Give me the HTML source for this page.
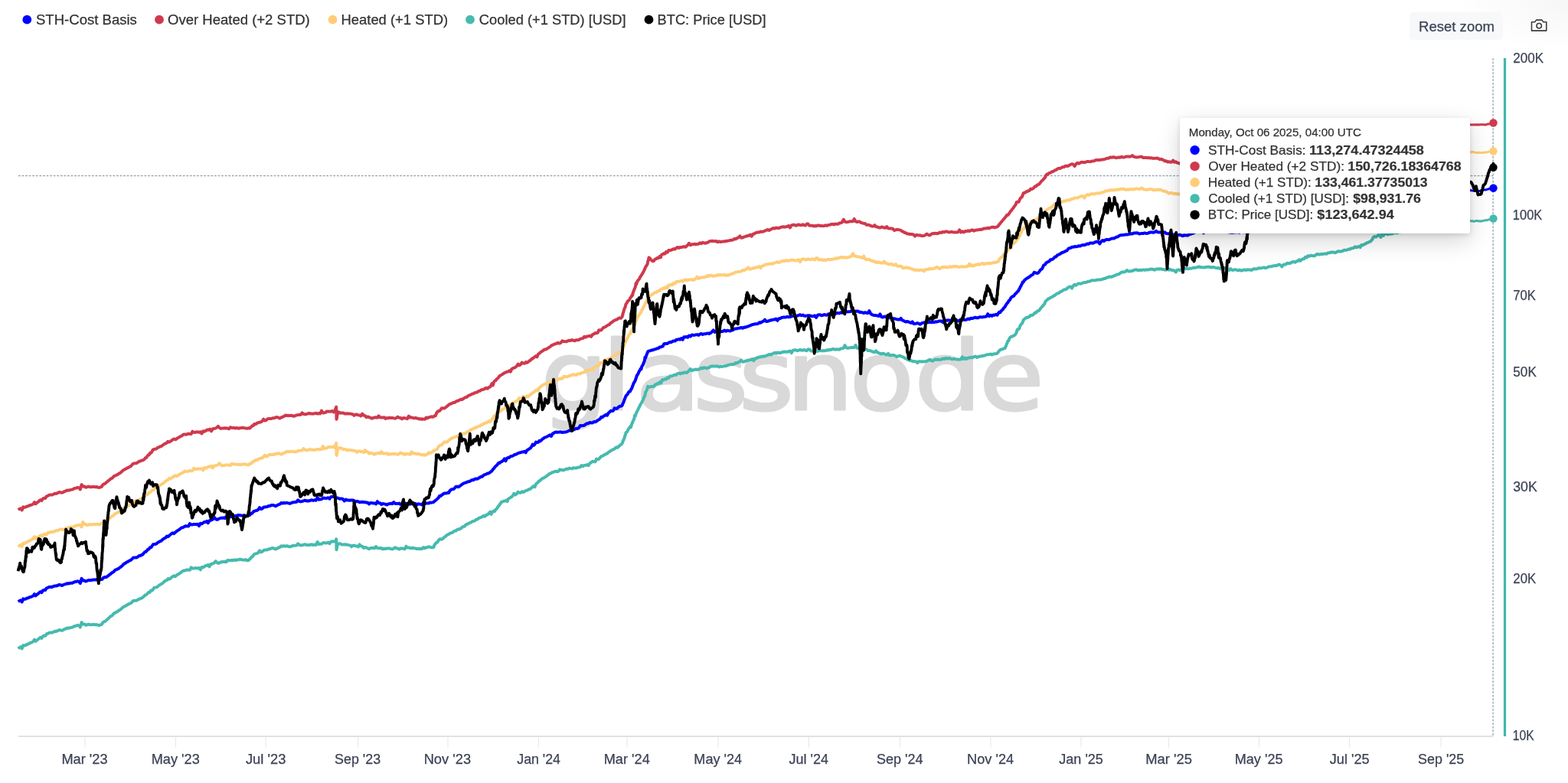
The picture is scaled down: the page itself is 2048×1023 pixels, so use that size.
<!DOCTYPE html>
<html lang="en"><head><meta charset="utf-8"><title>STH Cost Basis Bands</title>
<style>
html,body{margin:0;padding:0;background:#fff;}
body{width:2048px;height:1023px;position:relative;overflow:hidden;font-family:"Liberation Sans",sans-serif;}
.t{position:absolute;white-space:nowrap;line-height:1;transform-origin:0 0;-webkit-text-stroke:0.25px currentColor;}
.t b{-webkit-text-stroke:0.2px currentColor;}
.lg{font-size:18px;color:#333;}
.xl{font-size:18px;color:#3b4254;}
.yl{font-size:18px;color:#3b4254;}
.wm{color:#d9d9d9;-webkit-text-stroke:3px #d9d9d9;}
#tip{position:absolute;left:1541.2px;top:154px;width:378.8px;height:150.6px;background:#fff;border-radius:3px;box-shadow:0 10px 30px rgba(0,0,0,0.17),0 2px 6px rgba(0,0,0,0.13);}
.th{font-size:14.7px;color:#333;}
.tr{font-size:17px;color:#333;}
.tr b{font-weight:bold;}
#rz{position:absolute;left:1841.3px;top:15.6px;width:122.2px;height:36.6px;background:#f7f8fa;border-radius:5px;}
.rzt{font-size:19px;color:#3b4254;}
svg{position:absolute;left:0;top:0;}
</style></head><body>

<div style="position:absolute;right:0;top:0;width:150px;height:70px;background:radial-gradient(ellipse at 100% 0%,rgba(0,0,0,0.035),rgba(0,0,0,0) 70%);"></div>
<svg width="2048" height="1023" viewBox="0 0 2048 1023" fill="none">
<text x="642.2 715.1 754.9 823.1 877.5 934.0 1008.8 1085.9 1162.8" y="535.3" transform="scale(1.100,1)" font-family="&quot;DejaVu Sans&quot;,&quot;Liberation Sans&quot;,sans-serif" font-size="125" fill="#d9d9d9" stroke="#d9d9d9" stroke-width="3" stroke-linejoin="round">glassnode</text>
<line x1="24" y1="229.6" x2="1950" y2="229.6" stroke="#8fa0ae" stroke-width="1.3" stroke-dasharray="2.8 1.77"/>
<line x1="1950.1" y1="75.9" x2="1950.1" y2="962" stroke="#8fa0ae" stroke-width="1.3" stroke-dasharray="2.8 1.77"/>
<polyline points="23.8,847.5 25.4,846.1 27.0,845.1 28.7,847.3 30.3,843.1 31.9,843.5 33.6,842.9 35.2,842.0 36.8,841.5 38.5,840.3 40.1,839.9 41.7,839.1 43.4,838.1 45.0,835.6 46.6,837.9 48.2,836.4 49.8,835.4 51.4,833.9 53.0,832.7 54.5,833.8 56.1,831.2 57.7,830.6 59.3,830.8 60.9,828.2 62.5,827.8 64.3,826.8 66.1,826.6 68.0,826.6 69.8,825.7 71.6,824.8 73.4,824.9 75.2,824.2 77.0,823.1 78.9,823.2 80.7,823.8 82.5,823.1 84.2,822.0 85.9,821.6 87.7,820.6 89.4,820.8 91.1,820.2 92.8,819.9 94.5,819.6 96.2,818.7 98.0,817.9 99.7,817.6 101.4,816.8 103.1,817.3 104.8,819.5 106.6,813.1 108.3,815.5 110.0,815.4 111.8,816.7 113.6,816.3 115.5,815.6 117.3,816.2 119.1,816.3 120.9,816.0 122.7,816.0 124.5,816.2 126.4,816.1 128.2,816.8 130.0,816.9 131.4,816.3 132.9,815.9 134.3,813.3 135.7,812.3 137.1,812.0 138.6,810.6 140.0,809.4 141.5,808.0 143.0,806.8 144.5,805.1 146.0,804.6 147.5,803.1 149.0,801.1 150.5,800.7 152.0,799.5 153.5,799.1 155.0,797.6 156.6,796.9 158.1,795.8 159.7,794.2 161.2,792.8 162.8,792.3 164.4,791.2 165.9,790.4 167.5,789.6 169.1,788.7 170.7,788.2 172.3,786.7 173.9,785.0 175.5,784.7 177.0,784.7 178.6,784.6 180.2,783.5 181.8,782.4 183.4,782.2 185.0,781.3 186.5,780.7 188.0,779.1 189.5,777.5 191.0,777.2 192.5,775.7 194.0,774.0 195.5,773.9 197.0,771.6 198.5,771.5 200.0,770.0 201.5,767.7 203.0,767.5 204.5,767.2 206.0,766.4 207.5,764.9 209.0,764.0 210.5,763.1 212.0,762.3 213.5,760.8 215.0,759.5 216.5,758.5 218.1,757.9 219.6,756.0 221.2,756.7 222.7,755.6 224.2,754.3 225.8,753.0 227.3,752.3 228.8,753.2 230.4,751.8 231.9,750.7 233.5,749.8 235.0,748.8 236.5,748.0 238.0,746.3 239.5,745.8 241.0,745.5 242.7,745.0 244.5,744.4 246.2,744.7 247.9,744.8 249.7,741.4 251.4,742.6 253.1,742.7 254.8,742.1 256.6,742.3 258.3,742.5 260.0,742.0 261.8,744.3 263.5,741.0 265.2,741.4 266.8,740.3 268.5,739.0 270.2,739.1 271.8,737.8 273.5,740.3 275.2,737.4 276.8,736.6 278.5,736.2 280.2,735.0 281.8,733.2 283.5,735.2 285.2,735.9 286.8,735.1 288.5,734.5 290.2,734.0 292.0,733.9 293.8,733.7 295.5,734.3 297.2,732.0 299.0,732.2 300.8,732.3 302.5,732.0 304.2,732.2 306.0,731.4 307.9,732.0 309.8,731.4 311.6,731.3 313.5,730.8 315.4,731.1 317.2,731.5 319.1,731.7 321.0,731.1 322.9,732.4 324.8,732.0 326.0,730.4 327.2,729.8 328.5,727.7 329.8,727.4 331.0,725.1 332.2,724.0 334.0,723.4 335.7,723.1 337.4,721.8 339.1,719.4 340.8,721.3 342.5,720.7 344.2,719.1 345.9,718.6 347.6,718.4 349.3,718.2 351.0,717.2 352.8,717.2 354.6,716.3 356.5,716.1 358.3,716.7 360.1,717.6 361.9,716.5 363.7,715.6 365.5,715.0 367.4,713.3 369.2,713.8 371.0,713.2 372.8,713.7 374.6,713.3 376.5,713.8 378.3,714.4 380.1,714.0 381.9,713.1 383.7,712.9 385.5,712.8 387.4,712.6 389.2,710.3 391.0,712.0 392.8,712.5 394.6,712.2 396.5,711.8 398.3,711.2 400.1,712.0 401.9,711.9 403.7,712.2 405.5,711.7 407.4,711.3 409.2,712.1 411.0,711.6 412.8,712.0 414.6,708.1 416.4,711.1 418.2,710.8 420.0,710.7 421.8,709.2 423.5,709.1 425.2,709.5 427.0,709.2 428.8,708.8 430.5,710.2 432.2,707.8 434.0,707.4 435.8,707.6 437.5,707.1 438.4,706.8 439.2,704.3 439.3,706.2 439.3,708.1 439.3,709.2 439.4,711.3 439.4,715.0 439.4,714.5 439.5,716.9 439.5,718.2 439.9,716.6 440.2,714.5 440.6,712.5 440.9,711.2 441.2,710.6 443.0,710.3 444.8,710.5 446.6,711.6 448.3,711.4 450.1,711.3 451.9,711.5 453.6,711.7 455.4,712.1 457.2,712.4 459.0,714.1 460.7,712.7 462.5,712.8 464.3,713.3 466.1,713.4 467.9,714.5 469.6,711.4 471.4,713.6 473.2,713.8 475.0,715.9 476.8,715.0 478.6,715.6 480.4,716.3 482.1,717.2 483.9,716.1 485.7,715.9 487.5,715.8 489.3,716.3 491.1,714.1 492.9,716.1 494.6,716.2 496.4,716.3 498.2,715.9 500.0,717.5 501.8,716.7 503.6,717.0 505.4,716.4 507.1,716.5 508.9,716.5 510.7,717.1 512.5,717.5 514.3,716.5 516.1,715.3 517.9,716.4 519.6,716.4 521.4,717.7 523.2,716.5 525.0,716.6 526.8,716.8 528.6,717.4 530.4,713.9 532.1,715.6 533.9,715.4 535.7,716.0 537.5,716.3 539.2,715.6 541.0,716.3 542.8,716.4 544.5,717.2 546.2,716.7 548.0,717.3 549.8,716.8 551.5,716.9 553.2,715.1 555.0,716.3 556.7,715.2 558.3,715.0 560.0,714.2 561.7,714.8 563.3,715.3 565.0,715.3 566.2,715.2 567.5,712.1 568.8,710.1 570.0,709.1 571.2,708.5 572.5,706.5 574.0,704.5 575.5,704.3 577.0,704.8 578.5,703.6 580.0,702.3 581.5,701.0 583.0,699.7 584.5,698.7 586.0,698.0 587.5,697.0 589.1,696.2 590.7,695.9 592.3,694.6 593.9,693.6 595.5,693.5 597.0,692.1 598.6,691.4 600.2,691.5 601.8,690.3 603.4,689.1 605.0,687.9 606.7,687.7 608.3,685.6 610.0,684.9 611.7,684.1 613.3,683.1 615.0,682.8 616.7,681.4 618.3,680.9 620.0,680.5 621.7,678.9 623.3,678.6 625.0,677.2 626.7,676.4 628.3,676.0 630.0,675.1 631.7,673.8 633.3,674.7 635.0,673.0 636.7,672.4 638.3,671.1 640.0,668.9 641.6,671.9 643.1,668.6 644.7,667.7 646.2,668.0 647.3,665.8 648.4,665.0 649.5,663.7 650.6,661.7 651.7,660.6 652.8,659.0 653.9,657.4 655.0,655.8 656.5,655.5 658.0,654.8 659.5,654.6 661.0,653.6 662.5,655.2 664.0,651.8 665.4,650.7 666.9,650.0 668.3,649.1 669.8,647.5 671.2,644.8 673.0,646.5 674.8,645.4 676.5,642.7 678.2,643.7 680.0,643.8 681.8,642.2 683.6,643.0 685.4,641.9 687.1,640.9 688.9,640.5 690.7,639.2 692.5,639.0 694.0,637.6 695.5,636.3 697.0,635.0 698.5,636.2 700.0,632.5 701.4,631.3 702.9,629.8 704.3,628.5 705.7,627.5 707.1,626.2 708.6,624.9 710.0,624.6 711.6,623.5 713.1,622.6 714.7,621.4 716.2,620.3 717.8,618.8 719.4,618.5 720.9,617.3 722.5,617.0 724.2,616.2 726.0,615.6 727.8,616.3 729.5,615.6 731.2,613.3 733.0,614.0 734.8,614.2 736.5,614.2 738.2,613.3 740.0,612.5 741.8,612.7 743.6,611.6 745.4,612.1 747.1,612.4 748.9,611.2 750.7,611.6 752.5,611.6 754.3,610.7 756.1,610.5 757.9,610.1 759.6,608.1 761.4,609.2 763.2,607.9 765.0,607.8 766.8,607.1 768.6,608.2 770.4,605.2 772.1,604.3 773.9,602.8 775.7,603.2 777.5,603.3 779.1,599.6 780.6,599.9 782.2,599.9 783.8,597.8 785.3,596.2 786.9,595.9 788.4,594.7 790.0,593.9 791.6,593.0 793.1,592.6 794.7,590.7 796.2,590.0 797.8,588.9 799.4,588.0 800.9,587.2 802.5,586.7 803.9,585.2 805.4,584.3 806.8,584.8 808.2,583.0 809.6,582.1 811.1,580.8 812.5,579.7 813.1,578.0 813.8,575.9 814.4,574.9 815.0,573.5 815.6,572.1 816.2,569.5 816.9,568.1 817.5,565.3 818.4,564.5 819.4,563.8 820.3,561.6 821.2,560.0 822.2,559.0 823.1,557.3 824.1,558.0 825.0,554.5 825.7,553.1 826.4,551.3 827.0,549.6 827.7,548.5 828.4,546.4 829.1,542.4 829.8,543.6 830.5,541.2 831.1,539.6 831.8,538.1 832.5,536.8 833.3,535.3 834.2,533.2 835.0,531.7 835.8,529.9 836.7,528.5 837.5,526.7 838.3,525.6 839.2,523.7 840.0,522.5 840.6,520.2 841.2,519.3 841.9,517.6 842.5,516.7 843.1,512.7 843.8,511.3 844.4,510.4 845.0,509.2 845.6,506.9 846.2,504.8 848.3,505.8 850.4,505.0 852.5,505.0 854.1,504.8 855.6,502.6 857.2,502.2 858.8,500.9 860.3,501.2 861.9,499.1 863.4,500.4 865.0,496.3 866.7,496.3 868.3,495.2 870.0,495.7 871.7,493.3 873.3,494.0 875.0,491.4 876.7,491.4 878.3,491.0 880.0,490.2 881.7,489.5 883.3,489.9 885.0,488.2 886.7,487.5 888.3,488.4 890.0,487.6 891.7,487.6 893.3,486.8 895.0,486.5 896.7,487.0 898.3,485.9 900.0,484.2 901.8,482.0 903.6,484.3 905.4,483.2 907.1,483.2 908.9,482.5 910.7,483.1 912.5,482.5 914.2,482.0 916.0,480.5 917.8,481.5 919.5,480.2 921.2,480.7 923.0,481.2 924.8,480.3 926.5,480.0 928.2,478.7 930.0,478.5 931.8,478.5 933.6,478.5 935.5,478.6 937.3,478.2 939.1,479.5 940.9,478.5 942.7,479.1 944.5,478.6 946.4,478.3 948.2,478.1 950.0,477.5 951.8,476.7 953.6,476.4 955.5,476.1 957.3,475.9 959.1,475.7 960.9,474.0 962.7,474.4 964.5,473.2 966.4,472.4 968.2,470.5 970.0,472.8 971.8,472.6 973.6,471.8 975.5,471.3 977.3,470.8 979.1,470.3 980.9,470.0 982.7,469.0 984.5,471.2 986.4,468.4 988.2,468.2 990.0,467.0 991.7,466.6 993.3,466.3 995.0,466.2 996.7,465.4 998.3,465.7 1000.0,465.2 1001.7,464.3 1003.3,463.7 1005.0,462.9 1006.7,463.7 1008.3,462.6 1010.0,461.8 1011.8,460.9 1013.6,461.7 1015.5,460.5 1017.3,461.1 1019.1,461.2 1020.9,460.4 1022.7,459.8 1024.5,459.5 1026.4,459.7 1028.2,459.8 1030.0,459.3 1031.9,458.5 1033.8,461.1 1035.6,458.0 1037.5,457.3 1039.4,457.3 1041.2,458.3 1043.1,457.7 1045.0,456.8 1046.8,457.6 1048.5,457.8 1050.2,456.9 1052.0,457.8 1053.8,458.3 1055.5,456.3 1057.2,456.4 1059.0,458.5 1060.8,458.5 1062.5,458.5 1064.2,459.1 1066.0,458.4 1067.8,459.1 1069.5,458.0 1071.2,457.8 1073.0,458.4 1074.8,458.1 1076.5,458.3 1078.2,458.1 1080.0,457.3 1081.8,457.8 1083.6,456.8 1085.5,456.9 1087.3,456.1 1089.1,456.1 1090.9,456.8 1092.7,456.2 1094.5,456.4 1096.4,456.7 1098.2,455.4 1100.0,455.3 1101.8,454.6 1103.5,451.2 1105.2,454.1 1107.0,454.8 1108.8,454.6 1110.5,454.3 1112.2,454.0 1114.0,453.9 1115.8,453.9 1117.5,451.0 1119.3,454.6 1121.1,455.1 1122.9,454.5 1124.6,454.4 1126.4,455.7 1128.2,455.7 1130.0,456.3 1131.8,456.4 1133.6,458.1 1135.4,457.9 1137.1,458.4 1138.9,459.1 1140.7,459.9 1142.5,460.0 1144.2,458.3 1146.0,460.6 1147.8,461.1 1149.5,462.0 1151.2,462.5 1153.0,461.7 1154.8,462.1 1156.5,463.1 1158.2,463.5 1160.0,461.9 1161.9,464.3 1163.8,464.3 1165.6,464.1 1167.5,463.9 1169.4,464.9 1171.2,466.2 1173.1,465.4 1175.0,464.7 1176.7,465.4 1178.3,466.0 1180.0,466.6 1181.7,468.0 1183.3,468.4 1185.0,469.8 1186.7,469.9 1188.3,471.1 1190.0,471.0 1191.7,471.9 1193.3,472.0 1195.0,472.3 1196.7,472.5 1198.3,474.1 1200.0,472.2 1201.7,472.3 1203.3,472.6 1205.0,472.2 1206.9,472.4 1208.8,472.2 1210.6,471.8 1212.5,470.9 1214.4,469.7 1216.2,471.1 1218.1,471.7 1220.0,470.4 1221.9,469.4 1223.8,470.0 1225.6,469.6 1227.5,470.0 1229.4,469.7 1231.2,468.5 1233.1,469.2 1235.0,467.9 1236.8,468.7 1238.6,468.1 1240.5,468.2 1242.3,469.0 1244.1,469.3 1245.9,468.7 1247.7,469.1 1249.5,469.6 1251.4,469.6 1253.2,469.7 1255.0,469.6 1256.9,466.3 1258.8,469.2 1260.6,467.7 1262.5,469.0 1264.4,467.6 1266.2,467.6 1268.1,466.7 1270.0,467.3 1272.1,466.2 1274.2,465.6 1276.2,467.0 1278.0,466.1 1279.7,465.5 1281.4,465.5 1283.1,464.8 1284.8,464.9 1286.6,464.4 1288.3,463.4 1290.0,463.3 1291.9,463.2 1293.8,462.6 1295.6,463.5 1297.5,462.5 1299.4,462.2 1301.2,462.2 1302.5,461.7 1303.8,460.1 1305.0,458.3 1306.2,457.2 1307.8,456.4 1309.4,456.2 1310.9,455.4 1312.5,455.1 1313.3,453.2 1314.1,451.7 1314.8,449.6 1315.6,447.9 1316.4,445.5 1317.2,445.4 1318.0,443.6 1318.8,441.4 1320.2,440.1 1321.8,439.7 1323.2,438.8 1324.8,438.3 1326.2,437.1 1327.1,435.4 1327.9,433.7 1328.8,430.4 1329.6,430.2 1330.4,430.1 1331.2,429.3 1332.1,426.5 1332.9,424.8 1333.8,423.6 1334.8,422.8 1335.8,420.8 1336.8,417.8 1337.8,417.1 1338.8,416.4 1340.2,414.9 1341.7,415.0 1343.1,414.1 1344.6,413.9 1346.0,411.8 1347.5,412.0 1348.9,411.6 1350.4,410.2 1351.8,408.5 1353.2,408.6 1354.6,406.6 1356.1,406.2 1357.5,405.3 1358.6,403.7 1359.7,402.1 1360.8,401.0 1361.9,399.8 1363.1,398.1 1364.2,397.2 1365.3,394.2 1366.4,392.8 1367.5,392.0 1369.0,390.5 1370.5,390.0 1372.0,388.8 1373.5,388.4 1375.0,387.5 1376.5,386.2 1378.0,385.8 1379.5,384.3 1381.0,383.4 1382.5,383.0 1384.1,382.1 1385.7,380.8 1387.3,380.4 1388.9,378.8 1390.5,378.3 1392.0,378.2 1393.6,376.9 1395.2,375.6 1396.8,374.7 1398.4,374.5 1400.0,376.6 1401.7,373.6 1403.3,371.9 1405.0,372.7 1406.7,371.7 1408.3,370.5 1410.0,370.5 1411.7,370.7 1413.3,370.0 1415.0,369.2 1416.7,369.1 1418.3,369.0 1420.0,368.2 1421.8,367.7 1423.6,367.6 1425.5,366.5 1427.3,366.1 1429.1,366.4 1430.9,366.1 1432.7,365.8 1434.5,365.5 1436.4,365.5 1438.2,365.2 1440.0,364.7 1441.7,364.1 1443.3,364.0 1445.0,362.8 1446.7,362.6 1448.3,361.8 1450.0,361.6 1451.7,361.9 1453.3,361.2 1455.0,360.3 1456.7,360.0 1458.3,358.7 1460.0,358.6 1461.7,358.1 1463.3,356.7 1465.0,355.6 1466.8,355.4 1468.5,355.4 1470.2,354.7 1472.0,353.1 1473.8,354.4 1475.5,354.4 1477.2,354.3 1479.0,353.8 1480.8,353.1 1482.5,352.4 1484.3,352.2 1486.1,353.3 1487.9,353.0 1489.6,352.7 1491.4,352.9 1493.2,352.4 1495.0,352.9 1496.9,352.3 1498.8,352.6 1500.6,352.2 1502.5,351.8 1504.4,351.5 1506.2,352.0 1508.1,352.7 1510.0,351.5 1511.7,351.4 1513.3,351.3 1515.0,351.7 1516.7,351.2 1518.3,352.1 1520.0,352.0 1521.7,352.7 1523.3,352.7 1525.0,350.7 1526.8,352.7 1528.6,351.9 1530.5,353.1 1532.3,353.1 1534.1,353.6 1535.9,355.5 1537.7,352.7 1539.5,352.4 1541.4,353.3 1543.2,352.5 1545.0,352.0 1546.8,351.3 1548.5,351.2 1550.2,350.6 1552.0,351.3 1553.8,350.6 1555.5,350.8 1557.2,350.3 1559.0,349.6 1560.8,350.0 1562.5,349.3 1564.3,349.1 1566.1,348.2 1567.9,349.3 1569.6,349.1 1571.4,349.4 1573.2,349.5 1575.0,348.9 1576.8,348.8 1578.6,348.6 1580.5,349.0 1582.3,349.6 1584.1,349.0 1585.9,349.3 1587.7,349.9 1589.5,350.2 1591.4,349.9 1593.2,350.8 1595.0,351.5 1596.7,350.3 1598.5,349.4 1600.2,350.5 1601.9,350.8 1603.7,352.0 1605.4,353.2 1607.1,351.1 1608.8,352.5 1610.6,353.0 1612.3,352.2 1614.0,352.3 1615.8,353.0 1617.5,353.4 1619.2,352.5 1620.8,353.4 1622.5,353.5 1624.2,352.6 1625.8,352.5 1627.5,353.0 1629.3,352.3 1631.1,352.6 1632.9,352.5 1634.6,353.0 1636.4,351.9 1638.2,351.1 1640.0,351.6 1641.8,351.2 1643.6,350.3 1645.5,350.6 1647.3,350.2 1649.1,349.9 1650.9,349.4 1652.7,350.3 1654.5,349.7 1656.4,348.7 1658.2,348.3 1660.0,348.3 1661.8,347.6 1663.6,347.5 1665.4,346.8 1667.1,347.3 1668.9,346.2 1670.7,345.5 1672.5,346.5 1674.3,348.5 1676.1,346.2 1677.9,345.4 1679.6,345.4 1681.4,343.7 1683.2,343.9 1685.0,344.1 1686.7,342.7 1688.3,342.3 1690.0,342.0 1691.7,342.7 1693.3,341.3 1695.0,341.1 1696.7,339.3 1698.3,340.8 1700.0,339.2 1701.7,338.2 1703.3,338.2 1705.0,335.8 1706.7,336.5 1708.3,334.3 1710.0,334.8 1711.9,333.8 1713.8,334.1 1715.6,334.2 1717.5,334.2 1719.4,332.3 1721.2,332.0 1723.1,332.6 1725.0,332.1 1726.9,331.9 1728.8,331.8 1730.6,331.4 1732.5,331.8 1734.4,330.4 1736.2,330.2 1738.1,329.7 1740.0,329.4 1741.7,329.4 1743.3,330.3 1745.0,329.7 1746.7,328.6 1748.3,328.3 1750.0,328.6 1751.7,328.4 1753.3,328.1 1755.0,326.9 1756.7,326.8 1758.3,326.8 1760.0,326.4 1761.7,325.4 1763.3,325.7 1765.0,324.5 1766.7,324.3 1768.3,323.9 1770.0,322.2 1771.7,323.3 1773.3,322.6 1775.0,321.8 1776.7,323.2 1778.3,320.0 1780.0,320.4 1781.7,319.3 1783.3,318.6 1785.0,317.3 1786.7,316.8 1788.3,316.2 1790.0,315.5 1791.2,314.1 1792.5,312.7 1793.8,310.2 1795.4,309.0 1797.0,309.6 1798.6,308.6 1800.2,307.1 1801.8,307.4 1803.4,310.0 1805.0,305.3 1806.9,307.9 1808.8,305.4 1810.6,304.9 1812.5,306.3 1814.4,305.7 1816.2,305.3 1818.1,305.5 1820.0,304.6 1821.8,303.8 1823.6,304.2 1825.3,304.3 1827.1,302.8 1828.9,303.3 1830.7,303.0 1832.4,302.4 1834.2,302.5 1836.0,301.9 1837.8,302.1 1839.5,302.5 1841.3,300.8 1843.1,300.6 1844.9,300.5 1846.7,301.2 1848.4,301.1 1850.2,300.0 1852.0,299.1 1853.8,298.8 1855.5,298.5 1857.3,298.4 1859.1,297.7 1860.9,297.3 1862.6,296.9 1864.4,296.7 1866.2,297.0 1868.0,295.9 1869.8,295.8 1871.5,296.0 1873.3,296.0 1875.1,296.6 1876.9,296.1 1878.6,295.4 1880.4,294.5 1882.2,295.0 1884.0,294.6 1885.7,293.2 1887.5,293.9 1889.3,293.5 1891.1,294.4 1892.8,293.9 1894.6,292.6 1896.4,291.4 1898.2,290.6 1900.0,292.2 1901.7,292.0 1903.5,290.7 1905.3,290.6 1907.1,291.4 1908.8,291.7 1910.6,291.0 1912.4,289.9 1914.2,290.4 1915.9,289.3 1917.7,289.1 1919.5,288.7" stroke="#46baae" stroke-width="4.0" stroke-linejoin="round" stroke-linecap="butt"/>
<polyline points="1919.5,288.7 1921.2,288.8 1922.9,288.8 1924.7,289.2 1926.4,288.9 1928.1,288.6 1929.8,288.6 1931.6,288.9 1933.3,288.7 1935.0,288.9 1936.9,288.6 1938.8,287.9 1940.6,287.8 1942.5,287.7 1944.1,287.0 1945.7,286.7 1947.3,286.3 1948.9,286.0 1950.5,285.5" stroke="#46baae" stroke-width="3" stroke-linejoin="round" stroke-linecap="butt"/>
<polyline points="23.8,714.5 25.4,713.0 27.0,711.9 28.7,714.0 30.3,709.7 31.9,709.9 33.6,709.2 35.2,708.1 36.8,707.5 38.5,706.3 40.1,705.8 41.7,704.8 43.4,703.7 45.0,701.1 46.8,703.7 48.5,702.3 50.2,701.6 52.0,700.3 53.8,699.4 55.5,700.7 57.2,698.3 59.0,698.0 60.8,698.4 62.5,696.1 64.3,696.1 66.1,695.1 68.0,694.9 69.8,694.9 71.6,694.0 73.4,693.1 75.2,693.2 77.0,692.5 78.9,691.4 80.7,691.5 82.5,692.1 84.2,691.4 85.9,690.4 87.7,690.1 89.4,689.1 91.1,689.3 92.8,688.7 94.5,688.6 96.2,688.3 98.0,687.4 99.7,686.6 101.4,686.4 103.1,685.7 104.8,686.2 106.6,688.4 108.3,682.0 110.0,684.5 111.8,685.0 113.6,686.2 115.5,685.7 117.3,684.9 119.1,685.5 120.9,685.4 122.7,685.0 124.5,685.0 126.4,685.1 128.2,684.9 130.0,685.5 131.4,684.4 132.9,684.0 134.3,683.9 135.7,681.5 137.1,680.6 138.6,680.6 140.0,679.4 141.5,678.4 143.0,677.1 144.5,676.1 146.0,674.5 147.5,674.1 149.0,672.8 150.5,670.9 152.0,670.6 153.5,669.5 155.0,669.3 156.6,667.8 158.1,667.1 159.7,665.9 161.2,664.4 162.8,663.0 164.4,662.4 165.9,661.3 167.5,660.6 169.1,660.1 170.7,659.1 172.3,658.4 173.9,656.9 175.5,655.0 177.0,654.5 178.6,654.4 180.2,654.3 181.8,653.1 183.4,651.8 185.0,651.5 186.5,650.2 188.0,649.6 189.5,648.0 191.0,646.3 192.5,646.1 194.0,644.6 195.5,642.9 197.0,642.7 198.5,640.5 200.0,640.4 201.5,639.0 203.0,636.7 204.5,636.5 206.0,636.2 207.5,635.4 209.0,633.9 210.5,633.0 212.0,632.1 213.5,631.3 215.0,629.8 216.5,628.6 218.0,627.5 219.5,626.9 221.0,624.8 222.7,625.5 224.3,624.5 226.0,623.2 227.7,622.0 229.3,621.3 231.0,622.2 232.7,620.9 234.3,619.8 236.0,618.9 237.7,618.0 239.3,617.3 241.0,615.6 242.7,615.8 244.5,616.1 246.2,615.6 247.9,614.9 249.7,615.2 251.4,615.2 253.1,611.8 254.8,613.0 256.6,613.0 258.3,612.4 260.0,612.6 261.8,612.7 263.5,612.2 265.3,614.4 267.1,611.1 268.9,611.7 270.6,610.7 272.4,609.6 274.2,609.9 276.0,608.8 277.8,611.4 279.6,608.7 281.4,608.2 283.1,607.9 284.9,606.9 286.7,605.3 288.5,607.4 290.2,608.5 292.0,608.1 293.8,607.9 295.5,607.5 297.2,607.6 299.0,607.5 300.8,608.2 302.5,606.0 304.2,606.3 306.0,606.5 307.9,606.6 309.8,607.1 311.6,606.6 313.5,607.3 315.4,606.8 317.2,606.7 319.1,606.3 321.0,606.7 322.9,607.2 324.8,607.4 326.2,605.7 327.8,605.8 329.2,604.3 330.8,602.8 332.2,602.3 334.0,600.9 335.7,601.2 337.4,599.7 339.1,599.2 340.8,598.6 342.5,598.4 344.2,597.0 345.9,594.7 347.6,596.5 349.3,596.0 351.0,594.3 352.8,594.1 354.6,594.1 356.5,594.1 358.3,593.3 360.1,593.3 361.9,592.5 363.7,592.2 365.5,592.8 367.4,593.7 369.2,592.6 371.0,591.7 372.8,591.2 374.6,589.7 376.5,590.2 378.3,589.8 380.1,590.1 381.9,589.6 383.7,590.1 385.5,590.5 387.4,590.0 389.2,589.0 391.0,588.7 392.8,588.6 394.6,588.4 396.5,586.1 398.3,587.8 400.1,588.3 401.9,588.0 403.7,587.5 405.5,587.0 407.4,587.8 409.2,587.7 411.0,588.0 412.8,587.3 414.6,586.9 416.4,587.5 418.2,586.8 420.0,587.1 421.8,583.1 423.5,586.0 425.2,585.7 427.0,585.4 428.8,583.9 430.5,583.9 432.2,584.3 434.0,584.0 435.8,583.5 437.5,585.0 438.4,581.0 439.2,578.9 439.3,581.2 439.3,582.7 439.3,585.9 439.4,587.0 439.4,589.1 439.4,591.1 439.5,592.3 439.5,594.5 439.9,594.8 440.2,590.8 440.6,589.7 440.9,587.5 441.2,585.7 443.0,585.4 444.8,585.3 446.6,585.9 448.3,587.2 450.1,586.9 451.9,587.2 453.6,588.2 455.4,588.1 457.2,588.0 459.0,588.2 460.7,588.5 462.5,588.8 464.3,589.1 466.1,590.8 467.9,589.4 469.6,589.4 471.4,590.0 473.2,590.1 475.0,591.1 476.8,588.1 478.6,590.3 480.4,590.5 482.1,592.6 483.9,591.7 485.7,592.3 487.5,592.9 489.3,593.7 491.1,592.5 492.9,592.2 494.6,591.9 496.4,592.5 498.2,590.2 500.0,592.4 501.8,592.4 503.6,592.6 505.4,592.2 507.1,593.9 508.9,593.1 510.7,593.4 512.5,592.9 514.3,592.9 516.1,592.9 517.9,593.4 519.6,593.7 521.4,592.7 523.2,591.5 525.0,592.7 526.8,592.7 528.6,594.1 530.4,592.8 532.1,593.1 533.9,593.3 535.7,593.9 537.5,590.4 539.2,592.3 541.0,592.2 542.8,592.9 544.5,593.3 546.2,592.7 548.0,593.5 549.8,593.7 551.5,594.5 553.2,594.1 555.0,594.8 556.7,593.8 558.3,593.6 560.0,591.3 561.7,592.1 563.3,590.9 565.0,590.6 566.2,588.9 567.5,588.5 568.8,588.0 570.0,587.1 571.2,586.9 572.5,583.8 574.0,582.2 575.5,581.5 577.0,581.2 578.5,579.6 580.0,577.6 581.5,577.4 583.0,577.9 584.5,576.8 586.0,575.5 587.5,574.2 589.1,573.1 590.7,572.3 592.3,571.8 593.9,571.0 595.5,570.4 597.0,570.2 598.6,569.0 600.2,568.2 601.8,568.3 603.4,567.1 605.0,566.5 606.7,566.7 608.3,565.7 610.0,564.6 611.7,563.5 613.3,563.4 615.0,561.3 616.7,560.8 618.3,560.0 620.0,559.0 621.7,558.9 623.3,557.5 625.0,557.1 626.7,556.8 628.3,555.2 630.0,554.9 631.7,553.6 633.3,552.9 635.0,552.5 636.7,551.7 638.3,550.4 640.0,551.3 641.2,549.3 642.5,548.2 643.8,546.5 645.0,543.9 646.2,546.3 647.5,542.4 648.8,540.9 650.0,540.5 651.2,538.5 652.5,537.8 654.0,537.0 655.4,535.4 656.9,534.8 658.3,533.7 659.8,532.5 661.2,531.5 662.7,530.9 664.2,530.0 665.6,529.6 667.1,528.4 668.5,529.8 670.0,526.3 671.7,525.4 673.3,524.8 675.0,524.0 676.7,522.5 678.3,519.9 680.0,521.7 681.7,520.5 683.3,517.9 685.0,518.9 686.7,519.0 688.3,517.4 690.0,518.1 691.4,516.7 692.9,515.4 694.3,514.6 695.7,513.0 697.1,512.4 698.6,511.2 700.0,510.1 701.4,509.0 702.9,510.3 704.3,506.7 705.7,505.8 707.1,504.4 708.6,503.3 710.0,502.5 711.7,501.8 713.3,501.0 715.0,501.2 716.7,500.4 718.3,499.8 720.0,498.8 721.7,497.9 723.3,496.6 725.0,496.6 726.7,496.0 728.3,496.1 730.0,495.2 731.7,494.4 733.3,495.0 735.0,494.1 736.7,491.6 738.3,492.1 740.0,492.2 741.8,492.1 743.6,491.1 745.4,490.2 747.1,490.4 748.9,489.3 750.7,489.8 752.5,490.1 754.3,488.5 756.1,488.6 757.9,488.2 759.6,487.1 761.4,486.7 763.2,486.2 765.0,484.0 766.8,484.9 768.6,483.5 770.4,483.2 772.1,482.4 773.9,483.5 775.7,480.6 777.5,479.7 779.1,477.8 780.6,477.8 782.2,477.5 783.8,473.9 785.3,474.1 786.9,474.1 788.4,472.0 790.0,470.4 791.6,470.4 793.1,469.6 794.7,469.0 796.2,468.3 797.8,468.0 799.4,466.3 800.9,465.8 802.5,464.8 803.9,463.8 805.4,462.9 806.8,462.3 808.2,460.5 809.6,459.5 811.1,459.8 812.5,457.8 813.2,456.0 813.9,453.8 814.6,451.8 815.4,450.0 816.1,447.9 816.8,446.8 817.5,445.3 818.4,444.1 819.4,441.7 820.3,440.5 821.2,437.8 822.2,436.8 823.1,436.0 824.1,433.7 825.0,431.8 825.7,430.7 826.4,428.8 827.1,429.3 827.9,425.6 828.6,424.3 829.3,422.6 830.0,421.0 830.6,420.0 831.2,418.1 831.9,414.1 832.5,415.5 833.4,413.2 834.4,411.8 835.3,410.4 836.2,409.3 837.2,407.8 838.1,405.6 839.1,404.1 840.0,402.3 840.8,400.8 841.6,399.0 842.3,397.8 843.1,395.9 843.9,394.7 844.7,392.6 845.5,391.9 846.2,390.3 847.5,389.9 848.8,386.5 850.0,385.6 851.2,385.1 852.5,384.4 854.0,383.2 855.5,382.1 857.0,382.3 858.5,380.8 860.0,380.0 861.7,379.9 863.3,377.8 865.0,377.5 866.7,376.3 868.3,376.8 870.0,374.7 871.7,376.3 873.3,372.5 875.0,372.6 876.7,371.6 878.3,372.2 880.0,369.9 881.7,370.5 883.3,368.0 885.0,368.0 886.7,367.8 888.3,367.3 890.0,366.8 891.7,367.6 893.3,366.1 895.0,365.5 896.7,366.5 898.3,365.6 900.0,365.7 901.8,365.2 903.6,365.2 905.4,366.0 907.1,365.2 908.9,363.8 910.7,361.7 912.5,364.1 914.2,363.0 916.0,362.8 917.8,362.1 919.5,362.6 921.2,361.9 923.0,361.3 924.8,359.9 926.5,360.9 928.2,359.6 930.0,360.1 931.8,360.8 933.6,360.2 935.5,360.2 937.3,359.1 939.1,359.2 940.9,359.2 942.7,359.2 944.5,359.3 946.4,358.9 948.2,360.2 950.0,359.2 951.8,359.4 953.6,358.6 955.5,358.0 957.3,357.4 959.1,356.5 960.9,355.7 962.7,355.4 964.5,355.0 966.4,354.9 968.2,354.6 970.0,353.0 971.8,353.4 973.6,352.1 975.5,351.4 977.3,349.4 979.1,351.8 980.9,351.5 982.7,350.7 984.5,350.2 986.4,349.7 988.2,349.3 990.0,349.0 991.8,348.0 993.6,350.2 995.5,347.4 997.3,347.1 999.1,346.0 1000.9,345.5 1002.7,345.3 1004.5,345.2 1006.4,344.4 1008.2,344.7 1010.0,344.2 1011.8,343.4 1013.6,342.9 1015.5,342.2 1017.3,343.1 1019.1,342.2 1020.9,341.5 1022.7,340.6 1024.5,341.3 1026.4,340.1 1028.2,340.6 1030.0,340.7 1031.9,340.1 1033.8,339.8 1035.6,339.7 1037.5,340.1 1039.4,340.4 1041.2,340.2 1043.1,339.4 1045.0,342.1 1046.8,339.1 1048.5,338.4 1050.2,338.5 1052.0,339.6 1053.8,339.1 1055.5,338.3 1057.2,339.0 1059.0,339.2 1060.8,338.2 1062.5,339.0 1064.2,339.4 1066.0,337.3 1067.8,337.3 1069.5,339.4 1071.2,339.3 1073.0,339.3 1074.8,340.0 1076.5,339.4 1078.2,340.2 1080.0,339.3 1081.8,338.9 1083.6,339.3 1085.5,338.9 1087.3,338.9 1089.1,338.5 1090.9,337.5 1092.7,338.0 1094.5,336.9 1096.4,336.9 1098.2,336.1 1100.0,336.0 1101.8,336.8 1103.5,336.2 1105.2,336.5 1107.0,336.8 1108.8,335.6 1110.5,335.5 1112.2,334.7 1114.0,331.3 1115.8,334.1 1117.5,334.8 1119.3,335.2 1121.1,335.5 1122.9,335.8 1124.6,336.4 1126.4,337.1 1128.2,334.7 1130.0,338.5 1131.8,339.3 1133.6,338.8 1135.4,338.9 1137.1,340.4 1138.9,340.7 1140.7,341.4 1142.5,341.6 1144.2,343.1 1146.0,342.6 1147.8,342.8 1149.5,343.2 1151.2,343.7 1153.0,343.5 1154.8,341.7 1156.5,343.8 1158.2,344.2 1160.0,345.0 1161.7,345.5 1163.3,344.8 1165.0,345.1 1166.7,346.2 1168.3,346.6 1170.0,345.0 1171.7,347.5 1173.3,347.7 1175.0,347.7 1176.7,347.7 1178.3,348.9 1180.0,350.4 1181.7,349.8 1183.3,349.3 1185.0,349.7 1186.7,350.0 1188.3,350.2 1190.0,351.3 1191.7,351.4 1193.3,352.5 1195.0,352.4 1196.7,353.2 1198.3,352.7 1200.0,353.2 1201.7,352.8 1203.3,352.7 1205.0,353.0 1206.9,354.3 1208.8,352.1 1210.6,351.9 1212.5,351.9 1214.4,351.1 1216.2,351.3 1218.1,351.1 1220.0,350.8 1221.9,349.9 1223.8,348.8 1225.6,350.3 1227.5,351.0 1229.4,349.8 1231.2,348.8 1233.1,349.2 1235.0,348.8 1236.8,349.4 1238.6,349.3 1240.5,348.2 1242.3,349.0 1244.1,347.9 1245.9,348.6 1247.7,348.0 1249.5,348.0 1251.4,348.8 1253.2,349.0 1255.0,348.3 1256.9,348.4 1258.8,348.6 1260.6,348.4 1262.5,348.2 1264.4,347.7 1266.2,344.6 1268.1,347.5 1270.0,346.2 1271.9,347.5 1273.8,346.0 1275.6,346.0 1277.5,345.1 1279.4,345.8 1281.2,344.6 1283.1,343.9 1285.0,345.3 1286.8,344.5 1288.5,344.2 1290.2,344.3 1292.0,343.8 1293.8,344.1 1295.5,343.8 1297.2,342.9 1299.0,343.0 1300.8,342.8 1302.5,342.2 1303.8,341.7 1305.0,339.4 1306.2,337.7 1307.5,336.4 1308.8,335.8 1310.0,334.2 1311.2,332.4 1312.5,331.2 1313.8,329.5 1315.0,328.4 1316.2,326.6 1317.5,325.5 1318.8,323.8 1320.0,322.6 1321.2,320.9 1322.5,319.5 1323.8,317.3 1325.0,317.6 1326.2,316.1 1327.5,314.2 1328.8,312.3 1330.0,311.2 1330.8,309.5 1331.7,308.2 1332.5,306.2 1333.3,304.5 1334.2,302.9 1335.0,299.6 1335.8,299.3 1336.7,299.3 1337.5,298.5 1338.9,296.1 1340.4,294.8 1341.8,294.1 1343.2,293.8 1344.6,292.2 1346.1,289.6 1347.5,289.4 1348.9,289.3 1350.4,287.7 1351.8,287.7 1353.2,286.8 1354.6,286.6 1356.1,284.3 1357.5,284.5 1358.8,283.7 1360.0,282.0 1361.2,280.0 1362.5,279.6 1363.8,277.4 1365.0,276.6 1366.2,275.3 1367.5,273.8 1369.0,272.8 1370.5,272.1 1372.0,271.5 1373.5,270.3 1375.0,269.9 1376.5,267.5 1378.0,266.5 1379.5,266.3 1381.0,264.8 1382.5,264.5 1384.2,263.8 1386.0,263.9 1387.8,263.5 1389.5,262.7 1391.2,262.8 1393.0,261.8 1394.8,261.4 1396.5,261.5 1398.2,260.9 1400.0,259.8 1401.8,259.8 1403.6,258.6 1405.5,258.4 1407.3,258.6 1409.1,257.7 1410.9,256.8 1412.7,256.2 1414.5,256.3 1416.4,258.7 1418.2,255.8 1420.0,254.1 1421.8,255.1 1423.6,254.2 1425.5,253.2 1427.3,253.2 1429.1,253.6 1430.9,253.0 1432.7,252.4 1434.5,252.4 1436.4,252.5 1438.2,251.8 1440.0,251.3 1441.7,251.0 1443.3,249.8 1445.0,249.2 1446.7,249.4 1448.3,248.9 1450.0,248.5 1451.9,248.3 1453.8,248.4 1455.6,248.2 1457.5,247.9 1459.4,247.5 1461.2,247.8 1463.1,247.0 1465.0,247.1 1466.8,246.7 1468.5,247.0 1470.2,247.9 1472.0,247.7 1473.8,247.5 1475.5,247.8 1477.2,247.0 1479.0,247.6 1480.8,247.6 1482.5,246.8 1484.3,246.4 1486.1,246.7 1487.9,247.1 1489.6,246.7 1491.4,245.5 1493.2,247.2 1495.0,247.6 1496.9,247.9 1498.8,247.8 1500.6,247.4 1502.5,247.2 1504.4,247.1 1506.2,248.3 1508.1,248.2 1510.0,248.0 1511.7,248.1 1513.3,247.5 1515.0,247.9 1516.7,248.1 1518.3,249.2 1520.0,249.5 1521.7,250.0 1523.3,250.4 1525.0,251.6 1526.8,252.8 1528.6,251.9 1530.4,252.2 1532.2,252.6 1534.0,253.5 1535.8,252.8 1537.6,253.6 1539.4,253.3 1541.2,253.9 1543.0,253.3 1544.8,250.6 1546.6,252.5 1548.4,251.5 1550.2,252.5 1552.0,252.2 1553.7,252.5 1555.5,254.2 1557.3,251.2 1559.1,250.7 1560.9,251.4 1562.7,250.4 1564.4,249.7 1566.2,248.9 1568.0,248.8 1569.8,248.2 1571.6,248.9 1573.4,248.2 1575.1,248.4 1576.9,247.9 1578.7,247.2 1580.5,247.6 1582.3,246.9 1584.1,246.6 1585.9,245.5 1587.6,246.4 1589.4,246.1 1591.2,246.3 1593.0,246.2 1594.8,245.5 1596.6,245.0 1598.3,244.4 1600.1,244.4 1601.9,244.7 1603.7,243.7 1605.5,243.6 1607.3,243.9 1609.0,243.7 1610.8,243.1 1612.6,243.7 1614.4,243.9 1616.2,242.3 1618.0,240.9 1619.8,241.5 1621.5,241.3 1623.3,242.0 1625.1,242.8 1626.9,240.2 1628.7,241.1 1630.5,241.1 1632.2,239.8 1634.0,239.4 1635.8,239.6 1637.6,239.5 1639.4,238.3 1641.2,239.0 1642.9,238.8 1644.7,237.7 1646.5,237.3 1648.3,237.6 1650.1,237.0 1651.9,237.4 1653.7,237.4 1655.4,238.0 1657.2,237.0 1659.0,236.2 1660.8,236.9 1662.6,236.4 1664.4,235.5 1666.1,235.8 1667.9,235.3 1669.7,235.0 1671.5,234.4 1673.3,235.4 1675.1,234.7 1676.8,233.7 1678.6,233.3 1680.4,233.3 1682.2,232.6 1684.0,232.6 1685.8,231.8 1687.6,232.5 1689.3,231.4 1691.1,230.8 1692.9,231.7 1694.7,233.8 1696.5,231.6 1698.3,230.8 1700.0,230.9 1701.8,229.2 1703.6,229.4 1705.4,229.7 1707.2,228.6 1709.0,228.5 1710.7,228.5 1712.5,229.5 1714.3,228.4 1716.1,228.5 1717.9,227.0 1719.7,228.8 1721.5,227.5 1723.2,226.9 1725.0,227.4 1726.8,225.5 1728.6,226.6 1730.4,224.8 1732.2,225.8 1733.9,224.9 1735.7,225.2 1737.5,225.3 1739.3,225.4 1741.1,223.6 1742.9,223.4 1744.6,223.9 1746.4,223.5 1748.2,223.4 1750.0,223.3 1751.8,223.0 1753.6,223.5 1755.4,222.1 1757.1,222.0 1758.9,221.5 1760.7,221.3 1762.5,221.2 1764.3,221.9 1766.1,221.1 1767.8,220.0 1769.6,219.5 1771.4,219.7 1773.2,219.7 1775.0,219.6 1776.8,218.6 1778.5,218.8 1780.3,219.0 1782.1,218.8 1783.9,218.0 1785.7,218.5 1787.5,217.5 1789.3,217.5 1791.0,217.4 1792.8,216.0 1794.6,217.3 1796.4,216.8 1798.2,216.3 1800.0,217.9 1801.7,215.0 1803.5,215.6 1805.3,215.1 1807.1,215.0 1808.9,214.2 1810.7,214.3 1812.4,214.2 1814.2,214.2 1816.0,214.2 1817.8,214.2 1819.6,213.1 1821.4,212.1 1823.2,213.1 1824.9,212.4 1826.7,211.1 1828.5,211.6 1830.3,214.6 1832.1,210.2 1833.9,212.7 1835.6,210.2 1837.4,209.7 1839.2,211.1 1841.0,210.5 1842.8,210.1 1844.6,210.3 1846.3,209.4 1848.1,208.6 1849.9,209.0 1851.7,209.1 1853.5,207.7 1855.3,208.2 1857.1,207.9 1858.8,207.4 1860.6,207.4 1862.4,206.9 1864.2,207.1 1866.0,207.5 1867.8,205.8 1869.5,205.7 1871.3,205.6 1873.1,206.2 1874.9,206.2 1876.7,205.1 1878.5,204.2 1880.2,204.0 1882.0,203.7 1883.8,203.6 1885.6,202.9 1887.4,202.5 1889.2,202.2 1891.0,202.0 1892.7,202.3 1894.5,201.3 1896.3,201.1 1898.1,201.4 1899.9,201.4 1901.7,202.0 1903.4,201.5 1905.2,200.8 1907.0,200.0 1908.8,200.5 1910.6,200.1 1912.4,198.8 1914.1,199.4 1915.9,199.0 1917.7,199.1 1919.5,198.7" stroke="#ffcd78" stroke-width="4.0" stroke-linejoin="round" stroke-linecap="butt"/>
<polyline points="1919.5,198.7 1921.2,198.7 1923.0,198.6 1924.8,198.6 1926.5,199.3 1928.2,199.4 1930.0,199.4 1931.8,199.3 1933.5,199.5 1935.2,199.6 1937.0,199.4 1938.8,199.1 1940.5,199.2 1942.1,198.7 1943.6,198.5 1945.2,198.0 1946.8,197.8 1948.6,197.4 1950.5,197.0" stroke="#ffcd78" stroke-width="3" stroke-linejoin="round" stroke-linecap="butt"/>
<polyline points="23.8,666.2 25.4,665.0 27.0,664.2 28.7,666.5 30.3,662.4 31.9,662.9 33.6,662.5 35.2,661.6 36.8,661.3 38.5,660.3 40.1,660.0 41.7,659.3 43.4,658.5 45.0,656.1 46.6,658.4 48.2,656.8 49.8,655.8 51.4,654.2 53.0,653.0 54.5,654.1 56.1,651.4 57.7,650.8 59.3,650.9 60.9,648.3 62.5,647.8 64.3,646.8 66.1,646.6 68.0,646.6 69.8,645.7 71.6,644.8 73.4,644.9 75.2,644.2 77.0,643.1 78.9,643.2 80.7,643.8 82.5,643.1 84.2,642.0 85.9,641.6 87.7,640.6 89.4,640.8 91.1,640.2 92.8,639.9 94.5,639.6 96.2,638.7 98.0,637.9 99.7,637.6 101.4,636.8 103.1,637.3 104.8,639.5 106.6,633.1 108.3,635.5 110.0,635.4 111.8,636.7 113.6,636.3 115.5,635.6 117.3,636.2 119.1,636.3 120.9,636.0 122.7,636.0 124.5,636.2 126.4,636.1 128.2,636.8 130.0,636.9 131.4,636.3 132.9,635.9 134.3,633.3 135.7,632.3 137.1,632.0 138.6,630.6 140.0,629.4 141.5,628.1 143.0,627.1 144.5,625.5 146.0,625.1 147.5,623.8 149.0,621.9 150.5,621.6 152.0,620.5 153.5,620.3 155.0,618.9 156.6,618.2 158.1,617.0 159.7,615.5 161.2,614.1 162.8,613.5 164.4,612.4 165.9,611.6 167.5,610.9 169.1,609.9 170.6,609.3 172.2,607.7 173.8,605.9 175.3,605.4 176.9,605.3 178.4,605.2 180.0,604.0 181.7,602.8 183.4,602.5 185.1,601.5 186.8,601.3 188.5,600.1 189.8,598.3 191.0,598.0 192.2,596.3 193.5,594.5 194.8,594.2 196.0,591.8 197.2,591.7 198.5,590.0 199.8,587.5 201.0,587.0 202.7,586.8 204.3,586.3 206.0,584.9 207.7,584.2 209.3,583.4 211.0,582.8 212.7,581.5 214.3,580.3 216.0,579.4 217.7,578.8 219.3,576.9 221.0,577.6 222.7,576.6 224.3,575.3 226.0,574.1 227.7,573.4 229.3,574.3 231.0,573.0 232.7,571.9 234.3,571.0 236.0,570.1 237.7,569.3 239.3,567.7 241.0,567.4 242.7,567.8 244.5,567.3 246.2,566.6 247.9,566.9 249.7,567.0 251.4,563.7 253.1,564.8 254.8,564.9 256.6,564.3 258.3,564.5 260.0,564.7 261.8,564.3 263.5,566.5 265.3,563.2 267.1,563.7 268.9,562.7 270.6,561.5 272.4,561.8 274.2,560.7 276.0,563.3 277.8,560.5 279.6,559.9 281.4,559.6 283.1,558.6 284.9,556.9 286.7,559.0 288.5,559.9 290.2,559.6 292.0,559.5 293.8,559.2 295.5,559.4 297.2,559.5 299.0,560.3 300.8,558.3 302.5,558.7 304.2,559.0 306.0,559.0 307.9,559.6 309.8,559.0 311.6,559.7 313.5,559.2 315.4,559.1 317.2,558.7 319.1,559.1 321.0,559.6 322.9,559.8 324.8,559.3 326.2,559.5 327.8,558.0 329.2,556.5 330.8,556.0 332.2,554.0 334.0,554.3 335.7,552.7 337.4,552.3 339.1,551.7 340.8,551.4 342.5,550.1 344.2,547.7 345.9,549.6 347.6,549.0 349.3,547.4 351.0,546.9 352.8,547.0 354.6,547.0 356.5,546.2 358.3,546.2 360.1,545.3 361.9,545.1 363.7,545.7 365.5,546.6 367.4,545.4 369.2,544.6 371.0,544.0 372.8,542.4 374.6,543.1 376.5,542.8 378.3,543.1 380.1,542.7 381.9,543.2 383.7,543.7 385.5,543.3 387.4,542.4 389.2,542.1 391.0,541.9 392.8,541.7 394.6,539.3 396.5,541.0 398.3,541.4 400.1,541.0 401.9,540.5 403.7,539.8 405.5,540.6 407.4,540.4 409.2,540.7 411.0,540.1 412.8,539.8 414.6,540.6 416.4,540.0 418.2,540.5 420.0,536.6 421.8,539.5 423.5,539.2 425.2,538.9 427.0,537.4 428.8,537.4 430.5,537.8 432.2,537.5 434.0,537.0 435.8,538.5 437.5,536.1 438.1,534.4 438.7,533.4 439.2,531.6 439.3,534.9 439.3,536.0 439.3,538.2 439.4,540.2 439.4,541.5 439.4,543.8 439.5,547.7 439.5,547.4 439.9,546.4 440.2,544.2 440.6,542.4 440.9,540.2 441.2,538.1 443.0,538.6 444.8,539.8 446.6,539.4 448.3,539.6 450.1,540.6 451.9,540.4 453.6,540.2 455.4,540.4 457.2,540.6 459.0,540.9 460.7,541.2 462.5,542.9 464.3,541.5 466.1,541.6 467.9,542.3 469.6,542.4 471.4,543.5 473.2,540.6 475.0,542.8 476.8,543.1 478.6,545.2 480.4,544.4 482.1,545.1 483.9,545.8 485.7,546.8 487.5,545.9 489.3,545.5 491.1,545.2 492.9,545.7 494.6,543.4 496.4,545.5 498.2,545.5 500.0,545.6 501.8,545.3 503.6,546.9 505.4,546.1 507.1,546.3 508.9,545.8 510.7,545.9 512.5,545.9 514.3,546.4 516.1,546.7 517.9,545.8 519.6,544.6 521.4,545.8 523.2,545.9 525.0,547.3 526.8,546.0 528.6,546.3 530.4,546.5 532.1,547.1 533.9,543.7 535.7,545.5 537.5,545.3 539.2,546.0 541.0,546.4 542.8,545.8 544.5,546.6 546.2,546.8 548.0,547.6 549.8,547.2 551.5,547.9 553.2,547.4 555.0,547.7 556.7,545.5 558.3,546.4 560.0,545.2 561.7,545.0 563.3,544.2 565.0,544.8 566.2,544.3 567.5,543.3 568.8,543.2 570.0,540.1 571.2,538.1 572.5,537.1 574.0,536.9 575.5,535.3 577.0,533.3 578.5,533.2 580.0,533.7 581.5,532.7 583.0,531.5 584.5,530.2 586.0,528.9 587.5,528.0 589.1,527.5 590.7,526.7 592.3,526.0 593.9,525.8 595.5,524.6 597.0,523.7 598.6,523.7 600.2,522.5 601.8,521.8 603.4,522.0 605.0,521.0 606.7,519.9 608.3,518.9 610.0,518.8 611.7,516.8 613.3,516.3 615.0,515.6 616.7,514.6 618.3,514.5 620.0,513.1 621.7,512.8 623.3,512.5 625.0,511.0 626.7,510.8 628.3,509.6 630.0,508.9 631.7,508.7 633.3,507.9 635.0,506.7 636.7,507.7 638.3,506.2 640.0,505.7 641.2,503.9 642.5,501.1 643.8,503.4 645.0,499.4 646.2,497.7 647.5,497.2 648.8,495.1 650.0,494.3 651.2,493.1 652.5,491.1 654.1,490.4 655.7,489.4 657.3,488.2 658.9,487.2 660.5,486.7 662.0,485.8 663.6,485.5 665.2,484.3 666.8,485.7 668.4,482.2 670.0,481.1 671.7,480.5 673.3,479.7 675.0,478.2 676.7,475.7 678.3,477.4 680.0,476.3 681.7,473.6 683.3,474.6 685.0,474.8 686.7,473.1 688.3,473.9 690.0,472.8 691.4,471.4 692.9,470.7 694.3,469.0 695.7,468.5 697.1,467.2 698.6,466.1 700.0,465.0 701.4,466.4 702.9,462.8 704.3,461.9 705.7,460.5 707.1,459.4 708.6,458.6 710.0,457.5 711.5,456.5 713.0,456.6 714.5,455.5 716.0,454.7 717.5,453.6 719.0,452.6 720.5,451.1 722.0,450.8 723.5,449.8 725.0,449.5 726.9,448.7 728.8,447.9 730.6,448.6 732.5,447.8 734.4,445.4 736.2,446.1 738.1,446.2 740.0,446.2 741.8,445.4 743.6,444.7 745.4,445.0 747.1,444.1 748.9,444.8 750.7,445.3 752.5,444.2 754.3,444.3 756.1,444.0 757.9,442.8 759.6,442.4 761.4,441.9 763.2,439.7 765.0,440.7 766.8,439.4 768.6,439.2 770.4,438.7 772.1,439.9 773.9,437.2 775.7,436.4 777.5,435.1 779.1,435.2 780.6,434.9 782.2,431.2 783.8,431.5 785.3,431.4 786.9,429.3 788.4,427.8 790.0,427.5 791.6,426.3 793.1,425.4 794.7,424.4 796.2,423.8 797.8,421.8 799.4,421.0 800.9,419.6 802.5,418.7 804.2,417.9 805.8,417.6 807.5,416.1 809.2,415.3 810.8,415.8 812.5,414.0 813.1,412.2 813.6,410.0 814.2,408.0 814.7,406.2 815.3,404.1 815.8,402.9 816.4,401.4 816.9,400.0 817.5,397.3 818.6,396.2 819.6,393.7 820.7,392.9 821.8,392.2 822.9,390.0 823.9,388.3 825.0,387.3 825.6,385.3 826.2,385.8 826.9,382.0 827.5,380.7 828.1,378.9 828.8,377.2 829.4,376.1 830.0,374.1 830.6,370.1 831.2,371.4 831.9,369.0 832.5,367.5 833.4,366.2 834.4,365.2 835.3,363.9 836.2,361.8 837.2,360.5 838.1,358.9 839.1,357.5 840.0,355.8 840.8,354.5 841.6,352.5 842.3,351.1 843.1,348.8 843.9,348.0 844.7,346.3 845.5,345.4 846.2,341.5 846.6,340.3 846.9,339.5 847.2,338.5 847.5,336.4 848.8,337.3 850.0,339.5 851.2,340.0 852.5,341.3 854.0,341.0 855.5,338.7 857.0,338.3 858.5,336.9 860.0,337.2 861.4,335.0 862.9,336.4 864.3,332.4 865.7,332.3 867.1,331.1 868.6,331.6 870.0,329.0 871.7,329.7 873.3,327.1 875.0,327.1 876.7,326.7 878.3,325.9 880.0,325.2 881.7,325.6 883.3,323.9 885.0,323.0 886.7,324.0 888.3,323.1 890.0,323.2 891.7,322.5 893.3,322.2 895.0,322.8 896.7,321.7 898.3,320.1 900.0,317.8 901.8,320.2 903.6,319.2 905.4,319.3 907.1,318.7 908.9,319.4 910.7,319.0 912.5,318.6 914.2,317.2 916.0,318.2 917.8,316.8 919.5,317.3 921.2,317.8 923.0,317.0 924.8,316.7 926.5,315.3 928.2,315.1 930.0,314.8 931.8,315.0 933.6,315.2 935.5,314.9 937.3,316.3 939.1,315.4 940.9,316.1 942.7,315.8 944.5,315.6 946.4,315.5 948.2,315.0 950.0,314.7 951.8,314.4 953.6,314.0 955.5,313.8 957.3,313.6 959.1,312.0 960.9,312.4 962.7,311.1 964.5,310.4 966.4,308.4 968.2,310.8 970.0,310.5 971.7,309.6 973.3,309.1 975.0,308.5 976.7,308.0 978.3,307.7 980.0,306.6 981.7,308.7 983.3,305.9 985.0,305.5 986.7,304.3 988.3,303.8 990.0,303.5 991.8,303.4 993.6,302.5 995.5,302.9 997.3,302.4 999.1,301.4 1000.9,300.9 1002.7,300.1 1004.5,300.9 1006.4,299.8 1008.2,299.0 1010.0,298.0 1011.8,298.7 1013.6,297.5 1015.5,298.0 1017.3,298.1 1019.1,297.2 1020.9,296.6 1022.7,296.2 1024.5,296.4 1026.4,296.4 1028.2,295.9 1030.0,294.9 1031.9,297.5 1033.8,294.4 1035.6,293.8 1037.5,293.8 1039.4,294.8 1041.2,294.3 1043.1,293.4 1045.0,294.0 1046.8,294.2 1048.5,293.3 1050.2,294.1 1052.0,294.6 1053.8,292.6 1055.5,292.6 1057.2,294.8 1059.0,294.7 1060.8,294.7 1062.5,295.5 1064.2,294.9 1066.0,295.6 1067.8,294.6 1069.5,294.5 1071.2,295.1 1073.0,295.0 1074.8,295.2 1076.5,295.1 1078.2,294.3 1080.0,295.0 1081.8,293.9 1083.6,293.8 1085.5,293.0 1087.3,292.8 1089.1,293.4 1090.9,292.6 1092.7,292.7 1094.5,292.8 1096.4,291.4 1098.2,291.2 1100.0,290.2 1101.8,286.8 1103.5,289.6 1105.2,290.2 1107.0,290.0 1108.8,289.6 1110.5,289.3 1112.2,289.2 1114.0,289.2 1115.8,286.1 1117.5,289.3 1119.3,290.0 1121.1,289.5 1122.9,289.6 1124.6,291.0 1126.4,291.3 1128.2,292.0 1130.0,292.1 1131.8,293.9 1133.6,293.6 1135.4,294.1 1137.1,294.8 1138.9,295.6 1140.7,295.7 1142.5,294.2 1144.2,296.2 1146.0,296.5 1147.8,297.3 1149.5,297.6 1151.2,296.6 1153.0,296.8 1154.8,297.6 1156.5,297.8 1158.2,296.0 1160.0,298.3 1161.7,298.5 1163.3,298.4 1165.0,298.4 1166.7,299.5 1168.3,301.0 1170.0,300.3 1171.7,299.8 1173.3,300.1 1175.0,300.4 1176.7,300.9 1178.3,302.3 1180.0,302.7 1181.7,304.1 1183.3,304.3 1185.0,305.6 1186.7,305.4 1188.3,306.1 1190.0,306.0 1191.7,306.1 1193.3,306.7 1195.0,308.6 1196.7,306.9 1198.3,307.1 1200.0,307.6 1201.7,307.3 1203.3,308.0 1205.0,308.3 1206.9,307.9 1208.8,306.9 1210.6,305.6 1212.5,306.9 1214.4,307.5 1216.2,306.1 1218.1,304.9 1220.0,305.3 1221.9,304.8 1223.8,305.2 1225.6,304.8 1227.5,303.6 1229.4,304.2 1231.2,302.9 1233.1,303.4 1235.0,302.5 1236.8,302.5 1238.6,303.3 1240.5,303.5 1242.3,302.8 1244.1,303.1 1245.9,303.6 1247.7,303.5 1249.5,303.6 1251.4,303.3 1253.2,300.4 1255.0,303.6 1256.9,302.2 1258.8,303.5 1260.6,302.1 1262.5,302.2 1264.4,301.3 1266.2,302.1 1268.1,301.0 1270.0,300.3 1271.9,301.7 1273.8,300.9 1275.6,300.4 1277.5,300.4 1279.4,299.8 1281.2,300.0 1283.1,299.5 1285.0,298.6 1286.8,298.6 1288.5,298.4 1290.2,297.7 1292.0,298.4 1293.8,297.3 1295.5,296.8 1297.2,296.7 1299.0,297.4 1300.8,296.9 1302.5,296.3 1303.8,295.1 1305.0,293.3 1306.2,292.2 1307.5,290.3 1308.8,289.1 1310.0,287.4 1311.2,286.2 1312.5,284.5 1313.8,283.1 1315.0,280.9 1316.2,281.2 1317.5,279.7 1318.8,277.8 1320.0,275.9 1321.1,274.8 1322.2,273.2 1323.3,272.1 1324.4,270.2 1325.6,268.7 1326.7,267.2 1327.8,264.0 1328.9,263.9 1330.0,264.0 1330.9,263.3 1331.9,260.6 1332.8,259.0 1333.8,258.0 1334.7,257.3 1335.6,255.4 1336.6,252.5 1337.5,251.9 1338.9,251.8 1340.4,250.2 1341.8,250.2 1343.2,249.3 1344.6,249.1 1346.1,246.8 1347.5,247.0 1348.9,246.6 1350.4,245.2 1351.8,243.5 1353.2,243.6 1354.6,241.6 1356.1,241.2 1357.5,240.3 1358.8,238.6 1360.0,237.1 1361.2,235.9 1362.5,234.7 1363.8,233.0 1365.0,232.1 1366.2,229.1 1367.5,227.6 1369.0,227.4 1370.5,226.0 1372.0,225.7 1373.5,224.5 1375.0,224.2 1376.5,223.5 1378.0,222.3 1379.5,222.1 1381.0,220.7 1382.5,219.9 1384.2,220.0 1386.0,219.4 1387.8,218.3 1389.5,218.3 1391.2,217.0 1393.0,216.8 1394.8,217.0 1396.5,216.0 1398.2,215.0 1400.0,214.3 1401.8,214.6 1403.6,217.1 1405.5,214.3 1407.3,212.7 1409.1,213.7 1410.9,212.8 1412.7,211.8 1414.5,211.9 1416.4,212.2 1418.2,211.7 1420.0,211.0 1421.8,211.1 1423.6,211.4 1425.5,210.8 1427.3,210.4 1429.1,210.2 1430.9,209.2 1432.7,208.9 1434.5,209.2 1436.4,208.9 1438.2,208.7 1440.0,208.5 1441.7,208.3 1443.3,207.8 1445.0,207.2 1446.7,206.7 1448.3,206.7 1450.0,205.5 1451.9,205.7 1453.8,205.2 1455.6,205.4 1457.5,206.2 1459.4,205.9 1461.2,205.5 1463.1,205.7 1465.0,204.9 1466.8,205.5 1468.5,205.5 1470.2,204.8 1472.0,204.4 1473.8,204.5 1475.5,204.8 1477.2,204.4 1479.0,203.1 1480.8,204.8 1482.5,205.1 1484.3,205.5 1486.1,205.4 1487.9,205.1 1489.6,204.8 1491.4,204.8 1493.2,206.1 1495.0,206.0 1496.9,205.9 1498.8,206.3 1500.6,206.0 1502.5,206.6 1504.4,206.3 1506.2,207.0 1508.1,206.8 1510.0,206.7 1511.7,206.6 1513.3,207.3 1515.0,208.3 1516.7,207.8 1518.3,208.6 1520.0,209.3 1521.7,210.6 1523.3,210.3 1525.0,211.5 1526.8,211.2 1528.6,211.8 1530.4,211.7 1532.2,209.6 1534.0,211.9 1535.8,211.3 1537.6,212.8 1539.4,213.0 1541.2,213.8 1543.0,215.6 1544.8,212.5 1546.6,212.1 1548.4,212.8 1550.2,211.8 1552.0,211.1 1553.7,210.4 1555.5,210.3 1557.3,209.7 1559.1,210.5 1560.9,209.8 1562.7,210.0 1564.4,209.5 1566.2,208.8 1568.0,209.2 1569.8,208.5 1571.6,208.2 1573.4,207.2 1575.1,208.1 1576.9,207.8 1578.7,208.0 1580.5,208.0 1582.3,207.3 1584.1,206.8 1585.9,206.3 1587.6,206.3 1589.4,206.6 1591.2,205.7 1593.0,205.5 1594.8,205.8 1596.6,205.7 1598.3,205.1 1600.1,205.7 1601.9,206.0 1603.7,204.4 1605.5,203.0 1607.3,203.6 1609.0,203.5 1610.8,204.2 1612.6,205.0 1614.4,202.4 1616.2,203.3 1618.0,203.3 1619.8,202.1 1621.5,201.7 1623.3,202.0 1625.1,201.9 1626.9,200.7 1628.7,201.4 1630.5,201.2 1632.2,200.1 1634.0,199.8 1635.8,200.1 1637.6,199.5 1639.4,199.9 1641.2,199.9 1642.9,200.6 1644.7,199.6 1646.5,198.9 1648.3,199.5 1650.1,199.1 1651.9,198.2 1653.7,198.5 1655.4,198.1 1657.2,197.7 1659.0,197.2 1660.8,198.2 1662.6,197.5 1664.4,196.6 1666.1,196.1 1667.9,196.2 1669.7,195.5 1671.5,195.5 1673.3,194.8 1675.1,195.5 1676.8,194.4 1678.6,193.8 1680.4,194.8 1682.2,196.9 1684.0,194.7 1685.8,193.9 1687.6,194.0 1689.3,192.3 1691.1,192.6 1692.9,192.9 1694.7,191.8 1696.5,191.7 1698.3,191.8 1700.0,192.8 1701.8,191.7 1703.6,191.9 1705.4,190.4 1707.2,192.1 1709.0,190.9 1710.7,190.4 1712.5,190.8 1714.3,188.9 1716.1,190.1 1717.9,188.3 1719.7,189.4 1721.5,188.4 1723.2,188.8 1725.0,189.0 1726.8,189.0 1728.6,187.2 1730.4,187.0 1732.2,187.6 1733.9,187.2 1735.7,187.1 1737.5,187.1 1739.3,186.8 1741.1,187.3 1742.9,185.9 1744.6,185.8 1746.4,185.4 1748.2,185.2 1750.0,185.1 1751.8,185.8 1753.6,185.1 1755.4,184.0 1757.1,183.5 1758.9,183.7 1760.7,183.8 1762.5,183.7 1764.3,182.7 1766.1,182.9 1767.8,183.2 1769.6,182.9 1771.4,182.2 1773.2,182.7 1775.0,181.8 1776.8,181.8 1778.5,181.7 1780.3,180.3 1782.1,181.7 1783.9,181.1 1785.7,180.6 1787.5,182.3 1789.3,179.4 1791.0,180.0 1792.8,179.5 1794.6,179.4 1796.4,178.7 1798.2,178.9 1800.0,178.8 1801.7,178.8 1803.5,178.8 1805.3,178.8 1807.1,177.7 1808.9,176.8 1810.7,177.8 1812.4,177.1 1814.2,175.9 1816.0,176.4 1817.8,179.3 1819.6,175.0 1821.4,177.5 1823.2,175.0 1824.9,174.6 1826.7,176.0 1828.5,175.4 1830.3,175.0 1832.1,175.3 1833.9,174.4 1835.6,173.6 1837.4,174.0 1839.2,174.1 1841.0,172.7 1842.8,173.3 1844.6,173.0 1846.3,172.5 1848.1,172.6 1849.9,172.0 1851.7,172.3 1853.5,172.7 1855.3,171.0 1857.1,170.9 1858.8,170.9 1860.6,171.6 1862.4,171.5 1864.2,170.4 1866.0,169.6 1867.8,169.4 1869.5,169.1 1871.3,169.0 1873.1,168.4 1874.9,168.0 1876.7,167.7 1878.5,167.5 1880.2,167.9 1882.0,166.8 1883.8,166.7 1885.6,167.0 1887.4,167.0 1889.2,167.7 1891.0,167.2 1892.7,166.6 1894.5,165.7 1896.3,166.2 1898.1,165.9 1899.9,164.6 1901.7,165.2 1903.4,164.9 1905.2,165.8 1907.0,165.4 1908.8,164.1 1910.6,162.9 1912.4,162.3 1914.1,163.8 1915.9,163.3 1917.7,162.9 1919.5,162.7" stroke="#cf394d" stroke-width="4.0" stroke-linejoin="round" stroke-linecap="butt"/>
<polyline points="1919.5,162.7 1921.4,162.9 1923.2,163.1 1925.1,163.0 1927.0,162.8 1928.8,163.0 1930.7,162.7 1932.5,162.9 1934.4,162.7 1936.3,162.8 1938.1,162.8 1940.0,163.2 1941.6,162.6 1943.1,162.1 1944.7,161.9 1946.2,161.9 1948.4,161.1 1950.5,160.5" stroke="#cf394d" stroke-width="3" stroke-linejoin="round" stroke-linecap="butt"/>
<polyline points="23.8,786.2 25.4,785.0 27.0,784.2 28.7,786.5 30.3,782.4 31.9,782.9 33.6,782.5 35.2,781.6 36.8,781.3 38.5,780.3 40.1,780.0 41.7,779.3 43.4,778.5 45.0,776.1 46.6,778.4 48.2,776.8 49.8,775.8 51.4,774.2 53.0,773.0 54.5,774.1 56.1,771.4 57.7,770.8 59.3,770.9 60.9,768.3 62.5,767.8 64.3,766.9 66.1,766.8 68.0,766.9 69.8,766.1 71.6,765.4 73.4,765.5 75.2,765.0 77.0,764.0 78.9,764.2 80.7,765.0 82.5,764.4 84.2,763.4 85.9,763.1 87.7,762.2 89.4,762.5 91.1,762.0 92.8,761.8 94.5,761.7 96.2,760.8 98.0,760.1 99.7,759.9 101.4,759.3 103.1,759.9 104.8,762.1 106.6,755.8 108.3,758.4 110.0,758.4 111.8,759.5 113.6,758.9 115.5,757.9 117.3,758.3 119.1,758.1 120.9,757.6 122.7,757.4 124.5,757.4 126.4,757.1 128.2,757.6 130.0,757.4 131.7,757.1 133.3,757.1 135.0,754.8 136.7,754.1 138.3,754.2 140.0,753.2 141.5,752.2 143.0,750.8 144.5,749.8 146.0,748.3 147.5,747.9 149.0,746.5 150.5,744.6 152.0,744.3 153.5,743.3 155.0,743.0 156.4,741.5 157.8,740.8 159.2,739.6 160.6,738.1 161.9,736.6 163.3,736.1 164.7,735.0 166.1,734.2 167.5,733.4 169.1,732.5 170.7,731.9 172.3,730.5 173.9,728.8 175.5,728.4 177.0,728.4 178.6,728.4 180.2,727.3 181.8,726.1 183.4,725.9 185.0,725.0 186.4,724.5 187.7,722.8 189.1,721.2 190.5,720.9 191.8,719.4 193.2,717.7 194.5,717.5 195.9,715.3 197.3,715.2 198.6,713.6 200.0,711.2 201.5,711.1 203.0,710.9 204.5,710.3 206.0,708.9 207.5,708.1 209.0,707.3 210.5,706.7 212.0,705.3 213.5,704.1 215.0,703.1 216.5,702.5 218.0,700.5 219.5,701.1 221.0,699.9 222.5,698.5 224.1,697.2 225.6,696.3 227.2,697.1 228.7,695.7 230.2,694.5 231.8,693.4 233.3,692.4 234.8,691.5 236.4,689.8 237.9,689.3 239.5,689.0 241.0,687.8 242.7,687.2 244.5,687.5 246.2,687.5 247.9,684.2 249.7,685.4 251.4,685.4 253.1,684.9 254.8,685.1 256.6,685.3 258.3,684.8 260.0,687.1 261.8,683.8 263.5,684.4 265.2,683.3 266.8,682.0 268.5,682.1 270.2,680.8 271.8,683.3 273.5,680.4 275.2,679.6 276.8,679.2 278.5,678.0 280.2,676.2 281.8,678.2 283.5,678.9 285.2,678.1 286.8,677.5 288.5,676.7 290.2,676.7 292.0,676.5 293.8,677.1 295.5,674.8 297.2,675.0 299.0,675.0 300.8,674.8 302.5,675.0 304.2,674.1 306.0,674.5 307.9,673.9 309.8,673.6 311.6,673.0 313.5,673.3 315.4,673.6 317.2,673.7 319.1,673.1 321.0,674.3 322.9,673.8 324.8,673.4 326.2,673.0 327.8,671.0 329.2,670.8 330.8,668.7 332.2,667.8 334.0,667.2 335.7,666.9 337.4,665.6 339.1,663.2 340.8,665.1 342.5,664.5 344.2,662.8 345.9,662.4 347.6,662.2 349.3,662.0 351.0,660.9 352.8,660.9 354.6,660.1 356.5,659.9 358.3,660.5 360.1,661.3 361.9,660.2 363.7,659.3 365.5,658.7 367.4,657.0 369.2,657.5 371.0,657.0 372.8,657.3 374.6,656.9 376.5,657.4 378.3,657.9 380.1,657.4 381.9,656.5 383.7,656.2 385.5,656.0 387.4,655.7 389.2,653.3 391.0,655.0 392.8,655.4 394.6,655.0 396.5,654.4 398.3,653.7 400.1,654.4 401.9,654.2 403.7,654.4 405.5,653.8 407.4,653.3 409.2,654.0 411.0,653.3 412.8,653.7 414.6,649.7 416.4,652.7 418.2,652.4 420.0,652.2 421.8,650.7 423.5,650.6 425.2,651.0 427.0,650.7 428.8,650.3 430.5,651.7 432.2,649.3 434.0,648.9 435.8,649.1 437.5,648.6 439.2,650.6 440.8,650.4 442.5,651.3 444.3,651.7 446.1,651.4 448.0,652.2 449.8,654.5 451.6,652.6 453.4,653.6 455.2,653.5 457.0,653.8 458.9,653.6 460.7,653.5 462.5,654.1 464.3,655.3 466.1,655.0 467.9,655.2 469.6,656.2 471.4,656.0 473.2,655.8 475.0,656.0 476.8,656.2 478.6,656.5 480.4,656.8 482.1,658.5 483.9,657.0 485.7,657.1 487.5,657.6 489.3,657.5 491.1,658.4 492.9,655.2 494.6,657.2 496.4,657.2 498.2,659.1 500.0,658.0 501.8,658.4 503.6,658.9 505.4,659.6 507.1,658.5 508.9,658.1 510.7,657.7 512.5,658.3 514.3,656.0 516.1,658.0 517.9,658.0 519.6,658.0 521.4,657.6 523.2,659.2 525.0,658.3 526.8,658.5 528.6,657.9 530.4,657.9 532.1,657.9 533.9,658.4 535.7,658.7 537.5,657.8 539.2,656.7 541.0,657.9 542.8,658.0 544.5,659.5 546.2,658.3 548.0,658.6 549.8,658.9 551.5,659.5 553.2,656.1 555.0,658.0 556.7,657.4 558.3,657.6 560.0,657.5 561.7,656.4 563.3,656.7 565.0,656.4 566.5,655.9 568.0,654.2 569.5,653.5 571.0,651.8 572.5,650.7 574.0,648.0 575.5,648.3 577.0,646.6 578.5,645.9 580.0,644.5 581.5,644.5 583.0,644.4 584.5,643.8 586.0,644.1 587.5,641.3 589.1,639.8 590.7,639.2 592.3,639.1 593.9,637.6 595.5,635.7 597.0,635.7 598.6,636.3 600.2,635.3 601.8,634.2 603.4,632.9 605.0,631.8 606.7,631.0 608.3,630.6 610.0,629.8 611.7,629.2 613.3,629.1 615.0,627.9 616.7,627.1 618.3,627.2 620.0,626.0 621.7,625.5 623.3,625.7 625.0,624.8 626.7,623.7 628.3,622.7 630.0,622.7 631.7,620.7 633.3,620.2 635.0,619.5 636.7,618.6 638.3,618.5 640.0,617.2 641.2,616.2 642.5,615.3 643.8,613.2 645.0,612.3 646.2,610.4 647.5,609.0 648.8,608.1 650.0,606.6 651.2,604.8 652.5,605.1 654.1,603.5 655.7,602.8 657.3,601.6 658.9,599.4 660.5,602.3 662.0,598.9 663.6,597.8 665.2,597.9 666.8,596.3 668.4,596.1 670.0,595.5 671.7,594.2 673.3,593.8 675.0,593.1 676.7,592.2 678.3,591.5 680.0,591.2 681.7,590.6 683.3,590.6 685.0,589.7 686.7,591.4 688.3,588.2 690.0,587.4 691.4,586.4 692.9,585.3 694.3,583.4 695.7,580.6 697.1,581.9 698.6,580.5 700.0,577.5 701.4,578.1 702.9,577.9 704.3,575.9 705.7,576.4 707.1,575.0 708.6,573.6 710.0,572.8 711.7,571.4 713.3,571.1 715.0,570.1 716.7,569.2 718.3,568.4 720.0,570.0 721.7,566.6 723.3,565.9 725.0,564.8 726.9,564.6 728.8,564.7 730.6,564.5 732.5,564.3 734.4,565.0 736.2,564.7 738.1,564.6 740.0,564.2 741.8,563.5 743.6,562.4 745.4,562.5 747.1,561.8 748.9,561.8 750.7,560.8 752.5,559.8 754.3,560.1 756.1,558.9 757.9,556.1 759.6,556.3 761.4,556.1 763.2,555.7 765.0,554.3 766.8,553.2 768.6,553.2 770.4,552.0 772.1,552.3 773.9,552.4 775.7,551.0 777.5,551.2 779.1,550.5 780.6,549.0 782.2,548.3 783.8,547.3 785.3,544.8 786.9,545.3 788.4,543.5 790.0,542.8 791.6,541.8 793.1,542.7 794.7,539.5 796.2,538.4 797.8,536.7 799.4,536.9 800.9,536.8 802.5,533.2 804.2,533.8 805.8,534.0 807.5,532.1 809.2,530.8 810.8,530.8 812.5,529.9 813.2,528.3 813.9,526.6 814.6,525.3 815.4,522.6 816.1,521.1 816.8,519.1 817.5,517.4 818.6,516.1 819.6,515.1 820.7,513.0 821.8,511.6 822.9,511.6 823.9,509.2 825.0,507.8 825.7,505.8 826.4,504.0 827.0,502.4 827.7,500.5 828.4,499.6 829.1,498.3 829.8,497.0 830.5,494.6 831.1,493.3 831.8,490.7 832.5,489.7 833.3,488.8 834.2,486.6 835.0,484.7 835.8,483.7 836.7,481.8 837.5,482.4 838.3,478.8 839.2,477.6 840.0,476.0 840.6,474.2 841.2,473.1 841.9,470.9 842.5,466.8 843.1,468.0 843.8,465.6 844.4,464.0 845.0,462.4 845.6,461.0 846.2,459.3 847.8,458.4 849.4,458.2 850.9,457.6 852.5,457.4 854.4,456.5 856.2,456.3 858.1,455.3 860.0,455.0 861.4,453.6 862.9,453.5 864.3,452.7 865.7,452.6 867.1,449.5 868.6,449.0 870.0,448.9 871.7,448.9 873.3,447.8 875.0,446.9 876.7,447.3 878.3,446.0 880.0,445.4 881.7,445.6 883.3,443.8 885.0,443.8 886.7,443.0 888.3,443.7 890.0,442.0 891.7,443.8 893.3,440.2 895.0,440.6 896.7,439.8 898.3,440.7 900.0,438.5 901.8,439.6 903.6,437.5 905.4,437.9 907.1,437.8 908.9,437.4 910.7,437.1 912.5,438.0 914.2,436.6 916.0,436.0 917.8,437.0 919.5,436.2 921.2,436.3 923.0,435.7 924.8,435.4 926.5,436.0 928.2,435.0 930.0,433.4 931.8,431.4 933.6,433.9 935.5,433.0 937.3,433.1 939.1,432.6 940.9,433.4 942.7,433.0 944.5,432.7 946.4,431.5 948.2,432.8 950.0,431.7 951.8,432.1 953.6,432.5 955.5,431.6 957.3,431.2 959.1,429.8 960.9,429.5 962.7,429.2 964.5,428.9 966.4,428.6 968.2,427.9 970.0,428.8 971.8,427.5 973.6,427.7 975.5,426.9 977.3,426.3 979.1,425.7 980.9,424.8 982.7,424.0 984.5,423.7 986.4,423.3 988.2,423.2 990.0,422.9 991.8,421.3 993.6,421.7 995.5,420.4 997.3,419.7 999.1,417.7 1000.9,420.1 1002.7,419.8 1004.5,419.0 1006.4,418.5 1008.2,418.0 1010.0,417.6 1011.8,417.4 1013.6,416.5 1015.5,418.8 1017.3,416.2 1019.1,416.0 1020.9,415.0 1022.7,414.6 1024.5,414.5 1026.4,414.5 1028.2,413.8 1030.0,414.2 1031.9,414.0 1033.8,413.3 1035.6,413.0 1037.5,412.4 1039.4,413.4 1041.2,412.6 1043.1,412.0 1045.0,411.2 1046.8,412.3 1048.5,411.5 1050.2,412.5 1052.0,412.9 1053.8,412.4 1055.5,412.2 1057.2,412.2 1059.0,412.7 1060.8,413.2 1062.5,413.1 1064.2,412.3 1066.0,415.0 1067.8,411.9 1069.5,411.2 1071.2,411.3 1073.0,412.3 1074.8,411.8 1076.5,410.9 1078.2,411.6 1080.0,411.7 1081.8,410.3 1083.6,410.7 1085.5,410.9 1087.3,408.4 1089.1,408.0 1090.9,409.8 1092.7,409.3 1094.5,408.9 1096.4,409.2 1098.2,408.3 1100.0,408.7 1101.8,407.5 1103.6,407.2 1105.4,407.6 1107.1,407.3 1108.9,407.3 1110.7,407.0 1112.5,406.0 1114.2,407.0 1116.0,406.4 1117.8,406.8 1119.5,406.5 1121.2,406.8 1123.0,408.0 1124.8,407.8 1126.5,408.4 1128.2,409.0 1130.0,408.2 1131.8,408.9 1133.6,408.9 1135.4,406.1 1137.1,409.7 1138.9,411.1 1140.7,411.7 1142.5,412.0 1144.2,412.1 1146.0,412.5 1147.8,413.0 1149.5,410.4 1151.2,414.0 1153.0,414.5 1154.8,413.7 1156.5,413.6 1158.2,414.8 1160.0,414.8 1161.9,415.3 1163.8,415.2 1165.6,416.8 1167.5,416.3 1169.4,416.6 1171.2,417.1 1173.1,417.6 1175.0,417.5 1176.7,415.9 1178.3,418.3 1180.0,418.9 1181.7,420.0 1183.3,420.6 1185.0,420.0 1186.7,420.4 1188.3,421.4 1190.0,421.9 1191.7,420.3 1193.3,422.9 1195.0,423.1 1196.7,422.6 1198.3,422.1 1200.0,422.8 1201.7,423.8 1203.3,422.8 1205.0,421.7 1206.9,421.4 1208.8,421.1 1210.6,420.8 1212.5,421.3 1214.4,420.8 1216.2,421.3 1218.1,420.7 1220.0,421.1 1221.9,420.3 1223.8,420.5 1225.6,419.8 1227.5,419.4 1229.4,419.4 1231.2,420.8 1233.1,418.7 1235.0,418.6 1236.8,418.8 1238.6,418.3 1240.5,418.7 1242.3,418.8 1244.1,418.7 1245.9,418.0 1247.7,417.0 1249.5,418.6 1251.4,419.5 1253.2,418.4 1255.0,417.6 1256.9,418.1 1258.8,417.6 1260.6,418.0 1262.5,417.6 1264.4,416.4 1266.2,417.0 1268.1,415.7 1270.0,416.1 1271.9,415.2 1273.8,414.8 1275.6,415.3 1277.5,415.2 1279.4,414.2 1281.2,414.2 1283.1,414.4 1285.0,414.0 1286.8,413.8 1288.5,413.3 1290.2,410.2 1292.0,413.1 1293.8,411.7 1295.5,413.0 1297.2,411.6 1299.0,411.7 1300.8,410.8 1302.5,411.6 1303.8,409.5 1305.0,407.8 1306.2,408.3 1307.5,406.5 1308.8,405.1 1310.0,404.1 1311.1,402.3 1312.2,401.3 1313.3,399.6 1314.4,397.5 1315.6,396.2 1316.7,394.7 1317.8,392.7 1318.9,392.2 1320.0,389.8 1321.2,388.3 1322.5,387.2 1323.8,386.9 1325.0,385.4 1326.2,383.8 1327.5,382.8 1328.8,381.2 1330.0,380.3 1330.8,378.4 1331.7,377.1 1332.5,375.3 1333.3,374.0 1334.2,372.1 1335.0,370.6 1335.8,368.4 1336.7,368.5 1337.5,366.9 1338.9,365.5 1340.4,364.1 1341.8,363.5 1343.2,362.4 1344.6,361.8 1346.1,360.4 1347.5,359.4 1349.2,358.5 1350.8,355.8 1352.5,356.3 1354.2,356.9 1355.8,356.8 1357.5,354.7 1358.6,353.1 1359.7,352.1 1360.8,351.4 1361.9,349.5 1363.1,346.6 1364.2,346.1 1365.3,345.4 1366.4,343.3 1367.5,342.9 1369.0,341.9 1370.5,341.5 1372.0,339.2 1373.5,339.2 1375.0,338.7 1376.5,337.2 1378.0,335.5 1379.5,335.4 1381.0,333.4 1382.5,332.8 1384.1,332.0 1385.7,331.0 1387.3,330.0 1388.9,329.5 1390.5,328.9 1392.0,327.8 1393.6,327.5 1395.2,325.1 1396.8,324.2 1398.4,324.1 1400.0,322.7 1401.8,322.8 1403.6,322.1 1405.5,322.2 1407.3,322.0 1409.1,321.2 1410.9,321.4 1412.7,320.4 1414.5,320.1 1416.4,320.2 1418.2,319.6 1420.0,318.6 1421.8,318.7 1423.6,317.6 1425.5,317.5 1427.3,317.8 1429.1,317.0 1430.9,316.2 1432.7,315.7 1434.5,316.0 1436.4,318.5 1438.2,315.6 1440.0,314.1 1441.7,315.0 1443.3,314.0 1445.0,312.9 1446.7,312.9 1448.3,313.2 1450.0,312.6 1451.7,311.7 1453.3,311.5 1455.0,311.4 1456.7,310.5 1458.3,309.7 1460.0,309.3 1461.7,308.0 1463.3,307.3 1465.0,307.3 1466.8,307.0 1468.5,306.8 1470.2,306.5 1472.0,306.5 1473.8,306.2 1475.5,305.7 1477.2,305.3 1479.0,305.5 1480.8,304.5 1482.5,304.6 1484.3,304.2 1486.1,304.5 1487.9,305.4 1489.6,305.2 1491.4,304.9 1493.2,305.1 1495.0,304.4 1496.9,304.9 1498.8,304.8 1500.6,304.1 1502.5,303.5 1504.4,303.6 1506.2,303.8 1508.1,303.3 1510.0,301.9 1511.7,303.3 1513.3,303.4 1515.0,303.4 1516.7,303.5 1518.3,303.4 1520.0,303.4 1521.7,303.6 1523.3,305.1 1525.0,305.2 1526.8,305.3 1528.6,305.8 1530.4,305.7 1532.1,306.5 1533.9,306.4 1535.7,307.2 1537.5,307.1 1539.3,307.0 1541.1,306.8 1542.9,307.4 1544.6,308.3 1546.4,307.2 1548.2,307.4 1550.0,307.5 1551.7,307.6 1553.3,306.1 1555.0,306.1 1556.7,305.0 1558.3,304.8 1560.0,303.8 1561.7,300.9 1563.3,302.4 1565.0,301.0 1566.8,302.2 1568.5,302.1 1570.2,302.5 1572.0,304.4 1573.8,301.5 1575.5,301.2 1577.2,302.0 1579.0,301.2 1580.8,300.6 1582.5,300.0 1584.2,300.4 1586.0,300.3 1587.8,301.5 1589.5,301.4 1591.2,302.0 1593.0,302.1 1594.8,301.8 1596.5,302.7 1598.2,302.5 1600.0,302.7 1601.9,302.0 1603.8,303.2 1605.6,303.2 1607.5,303.7 1609.4,304.0 1611.2,303.5 1613.1,303.4 1615.0,303.2 1616.9,303.3 1618.8,303.7 1620.6,302.8 1622.5,302.8 1624.4,303.2 1626.2,303.2 1628.1,302.8 1630.0,303.4 1631.7,303.4 1633.3,301.4 1635.0,299.7 1636.7,300.0 1638.3,299.5 1640.0,299.8 1641.8,300.5 1643.5,297.9 1645.3,298.7 1647.1,298.7 1648.8,297.3 1650.6,296.8 1652.4,297.0 1654.2,296.9 1655.9,295.6 1657.7,296.2 1659.5,296.0 1661.2,294.8 1663.0,294.4 1664.8,294.5 1666.5,293.9 1668.3,294.2 1670.1,294.1 1671.8,294.7 1673.6,293.7 1675.4,292.9 1677.1,293.4 1678.9,292.9 1680.7,292.0 1682.5,292.1 1684.2,291.6 1686.0,291.2 1687.8,290.6 1689.5,291.5 1691.3,290.8 1693.1,289.7 1694.8,289.2 1696.6,289.2 1698.4,288.4 1700.1,288.3 1701.9,287.5 1703.7,288.1 1705.5,286.9 1707.2,286.3 1709.0,287.2 1710.8,289.2 1712.5,286.9 1714.3,286.0 1716.1,286.1 1717.8,284.3 1719.6,284.5 1721.4,284.7 1723.1,283.5 1724.9,283.4 1726.7,283.3 1728.4,284.2 1730.2,283.1 1732.0,283.2 1733.8,281.6 1735.5,283.3 1737.3,282.0 1739.1,281.3 1740.8,281.7 1742.6,279.8 1744.4,280.8 1746.1,279.0 1747.9,279.9 1749.7,278.9 1751.4,279.2 1753.2,279.3 1755.0,279.2 1756.8,277.4 1758.5,277.1 1760.3,277.6 1762.1,277.1 1763.8,276.9 1765.6,276.8 1767.4,276.4 1769.1,276.8 1770.9,275.4 1772.7,275.2 1774.4,274.7 1776.2,274.5 1778.0,274.2 1779.8,274.9 1781.5,274.1 1783.3,272.9 1785.1,272.4 1786.8,272.4 1788.6,272.4 1790.4,272.3 1792.1,271.2 1793.9,271.3 1795.7,271.5 1797.4,271.2 1799.2,270.4 1801.0,270.8 1802.7,269.7 1804.5,269.7 1806.3,269.5 1808.1,268.0 1809.8,269.3 1811.6,268.7 1813.4,268.1 1815.1,269.7 1816.9,266.7 1818.7,267.3 1820.4,266.7 1822.2,266.5 1824.0,265.7 1825.7,265.8 1827.5,265.6 1829.3,265.5 1831.1,265.4 1832.8,265.3 1834.6,264.2 1836.4,263.2 1838.1,264.1 1839.9,263.3 1841.7,262.0 1843.4,262.5 1845.2,265.3 1847.0,260.9 1848.7,263.3 1850.5,260.8 1852.3,260.2 1854.0,261.5 1855.8,260.9 1857.6,260.4 1859.4,260.6 1861.1,259.6 1862.9,258.8 1864.7,259.1 1866.4,259.1 1868.2,257.6 1870.0,258.1 1871.7,257.8 1873.5,257.2 1875.3,257.1 1877.0,256.5 1878.8,256.7 1880.6,257.0 1882.4,255.3 1884.1,255.1 1885.9,254.9 1887.7,255.5 1889.4,255.4 1891.2,254.3 1893.0,253.3 1894.7,253.1 1896.5,252.7 1898.3,252.5 1900.0,251.8 1901.8,251.3 1903.6,251.0 1905.3,250.7 1907.1,250.9 1908.9,249.8 1910.7,249.6 1912.4,249.8 1914.2,249.7 1916.0,249.6 1917.7,249.2 1919.5,248.8" stroke="#0000ff" stroke-width="4.0" stroke-linejoin="round" stroke-linecap="butt"/>
<polyline points="1919.5,248.8 1921.2,248.8 1923.0,249.1 1924.8,249.2 1926.5,249.1 1928.2,249.4 1930.0,249.5 1931.7,249.5 1933.3,249.2 1935.0,248.7 1936.7,248.3 1938.3,247.9 1940.0,248.1 1941.8,247.7 1943.5,247.1 1945.2,246.8 1947.0,246.7 1948.8,246.5 1950.5,245.8" stroke="#0000ff" stroke-width="3" stroke-linejoin="round" stroke-linecap="butt"/>
<polyline points="23.8,746.2 24.2,743.3 24.6,743.4 25.0,740.3 25.4,739.9 25.8,739.0 26.2,735.6 26.8,739.8 27.3,739.5 27.9,739.7 28.4,743.3 28.9,742.2 29.5,745.7 30.0,746.7 30.5,747.2 31.0,747.0 31.5,743.2 32.0,742.0 32.5,739.9 32.6,738.2 32.8,733.8 32.9,733.3 33.1,732.2 33.2,734.1 33.4,731.9 33.5,729.2 33.7,727.8 33.8,726.6 34.0,725.4 34.1,728.2 34.3,724.1 34.4,720.1 34.6,718.7 34.7,722.4 34.9,721.5 35.0,716.1 35.6,716.6 36.2,717.3 36.9,718.5 37.5,721.6 38.8,719.9 40.0,719.6 41.2,720.8 42.5,714.7 43.8,716.4 45.0,715.6 45.9,713.3 46.9,712.8 47.8,710.5 48.8,710.5 49.7,708.6 50.6,704.0 51.6,705.2 52.5,704.7 52.7,705.1 52.8,706.0 53.0,708.9 53.1,711.5 53.3,713.2 53.4,714.5 53.6,715.5 53.8,717.5 54.2,717.8 54.8,713.1 55.2,711.8 55.8,712.4 56.2,709.6 56.8,711.1 57.2,706.9 57.8,707.0 58.2,704.5 58.8,703.7 59.4,707.5 60.0,705.8 60.6,704.6 61.2,706.0 61.9,709.8 62.5,708.4 63.4,711.6 64.4,711.2 65.3,711.8 66.2,715.0 67.9,714.5 69.6,713.0 71.2,711.4 71.5,709.5 71.7,713.8 71.9,716.5 72.1,716.9 72.3,719.4 72.5,721.3 72.7,722.9 72.9,724.9 73.1,723.5 73.3,727.4 73.5,729.0 73.8,731.3 75.0,732.2 76.2,731.5 77.5,733.8 78.8,735.3 80.0,734.6 80.3,730.6 80.6,730.4 80.9,730.5 81.2,728.2 81.6,726.5 81.9,725.3 82.2,724.9 82.5,722.9 82.8,720.9 83.1,718.6 83.4,717.8 83.8,717.3 83.9,715.0 84.0,718.3 84.2,713.1 84.3,712.1 84.5,714.0 84.6,709.9 84.8,707.7 84.9,707.2 85.1,704.2 85.2,703.9 85.4,700.1 85.5,700.5 85.7,697.8 85.8,696.9 86.0,695.3 86.1,691.7 86.2,691.9 87.2,693.8 88.1,694.4 89.1,695.9 90.0,696.1 90.9,695.8 91.9,694.5 92.8,691.1 93.8,693.2 94.4,692.3 95.0,694.5 95.6,699.4 96.2,696.4 96.9,693.5 97.5,699.6 98.0,700.7 98.5,701.4 99.0,703.0 99.5,703.4 100.0,707.1 100.5,707.0 101.0,710.1 101.5,710.6 102.0,713.4 102.5,712.8 103.5,711.3 104.5,710.7 105.5,710.0 106.5,708.8 107.5,710.1 109.4,708.9 111.2,708.2 111.6,709.5 112.0,708.0 112.4,712.1 112.8,713.6 113.1,716.4 113.5,719.3 113.9,720.3 114.2,720.0 114.6,719.2 115.0,723.4 116.7,722.8 118.3,721.2 120.0,722.2 120.8,722.3 121.7,723.3 122.5,727.5 123.3,728.1 124.2,726.6 125.0,728.9 125.2,731.6 125.4,734.6 125.6,736.4 125.8,735.7 126.0,735.6 126.2,737.2 126.3,740.4 126.5,742.7 126.7,745.0 126.9,746.3 127.1,745.3 127.3,747.6 127.5,749.9 127.7,750.9 127.8,753.2 128.0,753.3 128.1,753.0 128.3,760.0 128.4,758.9 128.6,760.0 128.8,762.4 129.0,756.1 129.3,759.2 129.6,757.2 129.8,755.8 130.1,754.1 130.4,751.7 130.6,751.2 130.9,750.0 131.2,748.0 131.4,744.3 131.7,744.1 132.0,745.4 132.2,743.3 132.5,741.9 132.6,738.4 132.7,735.9 132.8,733.9 132.9,732.3 133.0,733.6 133.1,731.6 133.1,727.7 133.2,728.7 133.3,730.8 133.4,725.6 133.5,723.6 133.6,721.9 133.7,721.5 133.8,720.7 133.9,718.8 134.0,717.4 134.1,713.0 134.2,710.8 134.3,715.0 134.4,711.9 134.4,708.4 134.5,703.7 134.6,703.4 134.7,705.2 134.8,701.7 134.9,704.0 135.0,700.2 135.1,697.2 135.2,697.2 135.3,694.9 135.4,695.1 135.5,694.2 135.6,687.9 135.7,688.3 135.8,689.5 135.9,689.3 136.0,684.2 136.1,680.4 136.2,681.3 136.2,681.7 136.5,681.1 136.7,685.8 136.9,683.0 137.1,686.9 137.3,688.0 137.5,688.3 137.7,688.9 137.9,689.5 138.1,693.6 138.3,696.6 138.5,699.0 138.8,696.7 138.9,695.0 139.1,692.8 139.2,691.9 139.3,691.6 139.5,690.9 139.7,690.9 139.8,685.3 139.9,682.5 140.1,683.8 140.2,681.5 140.4,681.7 140.6,677.3 140.7,675.7 140.8,677.0 141.0,673.4 141.2,672.6 141.3,672.2 141.4,669.7 141.6,668.2 141.8,668.0 141.9,667.7 142.1,664.3 142.2,664.3 142.3,662.4 142.5,660.8 143.5,658.2 144.5,656.9 145.5,655.8 146.5,654.0 147.5,655.9 147.8,653.9 148.1,658.7 148.4,657.5 148.8,658.9 149.1,661.7 149.4,663.1 149.7,663.3 150.0,664.1 150.3,664.2 150.6,660.1 150.8,659.1 151.1,657.9 151.4,656.8 151.7,655.6 151.9,654.5 152.2,650.0 152.5,649.3 153.0,653.5 153.4,653.0 153.9,655.0 154.4,657.8 154.8,656.8 155.3,660.2 155.8,660.5 156.2,663.5 157.1,663.5 158.0,665.2 158.9,670.5 159.8,667.9 160.7,669.4 161.6,667.1 162.5,667.7 162.8,667.7 163.0,666.3 163.3,665.8 163.6,663.8 163.8,663.2 164.1,663.6 164.4,662.9 164.6,660.8 164.9,659.9 165.2,657.8 165.4,654.9 165.7,653.4 166.0,652.6 166.2,648.9 167.2,650.9 168.1,649.7 169.1,653.8 170.0,655.4 171.0,654.9 172.0,653.8 173.0,658.6 174.0,661.0 175.0,661.9 176.2,661.0 177.5,660.2 178.8,654.7 180.0,654.4 181.6,657.2 183.1,656.3 184.7,657.9 186.2,656.8 186.5,657.7 186.8,653.7 187.0,650.4 187.2,650.2 187.5,653.6 187.8,646.9 188.0,649.4 188.2,644.6 188.5,644.4 188.8,644.3 189.0,642.7 189.2,640.2 189.5,639.2 189.8,636.6 190.0,634.0 191.0,637.0 192.0,632.6 193.0,629.2 194.0,630.7 195.0,627.5 196.0,631.0 197.0,632.4 198.0,631.7 199.0,630.2 200.0,635.0 201.7,633.3 203.3,633.2 205.0,633.4 205.3,636.0 205.6,637.6 205.9,637.6 206.2,636.9 206.6,640.4 206.9,644.5 207.2,644.7 207.5,646.2 207.8,646.9 208.1,648.8 208.4,648.4 208.8,651.0 209.1,652.1 209.4,657.7 209.7,655.3 210.0,659.2 210.5,658.5 211.0,660.2 211.5,660.5 212.0,663.7 212.5,664.9 214.1,665.1 215.7,663.3 217.2,663.3 217.5,660.6 217.7,660.3 217.9,661.1 218.1,658.3 218.4,658.2 218.6,655.7 218.8,652.4 219.0,653.8 219.2,651.5 219.5,648.4 219.7,647.7 219.9,645.1 220.1,645.2 220.3,642.7 220.6,643.4 220.8,640.7 221.0,638.4 221.9,640.1 222.9,639.6 223.8,641.6 224.8,643.2 226.0,641.4 227.2,641.4 227.6,640.9 227.9,645.0 228.2,645.5 228.5,645.8 228.8,647.8 229.1,650.9 229.4,651.4 229.8,653.0 230.1,653.7 230.4,654.0 230.7,654.0 231.0,659.3 231.4,656.5 231.8,653.4 232.2,653.6 232.7,650.8 233.1,650.1 233.5,650.9 233.9,648.9 234.3,645.0 234.8,643.5 235.7,644.2 236.6,643.4 237.6,642.0 238.5,641.4 239.1,642.8 239.8,645.2 240.4,648.3 241.0,648.9 241.6,649.8 242.2,649.4 242.6,651.2 242.9,649.6 243.2,648.0 243.5,652.7 243.8,658.4 244.1,657.4 244.4,661.3 244.8,660.9 245.6,662.9 246.4,658.2 247.2,656.6 247.6,661.3 247.9,661.6 248.2,661.2 248.5,666.0 248.8,662.8 249.1,664.6 249.4,670.1 249.8,670.7 250.1,670.8 250.4,670.6 250.7,675.8 251.0,676.7 251.6,676.0 252.2,672.3 252.9,672.3 253.5,668.9 254.8,666.7 256.0,668.4 257.2,666.3 258.5,662.6 259.8,666.2 260.7,664.5 261.6,667.8 262.6,669.1 263.5,667.3 264.8,670.9 266.0,669.4 267.2,669.6 268.5,667.3 269.8,666.1 271.0,665.2 271.7,666.0 272.4,668.5 273.1,667.5 273.9,670.8 274.6,673.9 275.3,676.4 276.0,676.9 276.8,673.1 277.5,672.4 278.2,672.2 279.0,672.8 279.8,670.7 280.1,669.3 280.5,670.0 280.9,663.9 281.2,660.6 281.6,661.6 282.0,660.7 282.4,663.9 282.8,659.9 283.1,658.2 283.5,654.4 284.1,656.1 284.8,658.7 285.4,659.6 286.0,660.5 286.6,661.3 287.2,664.8 288.5,666.8 289.8,667.6 291.0,666.6 292.7,668.6 294.3,667.5 296.0,668.5 296.2,669.5 296.4,670.8 296.5,672.0 296.7,672.6 296.9,674.9 297.1,677.8 297.2,676.6 297.4,684.6 297.6,683.6 297.8,683.1 297.9,683.2 298.1,678.2 298.4,678.4 298.6,678.4 298.8,675.6 298.9,675.0 299.1,672.7 299.4,672.0 299.6,671.2 299.8,668.0 300.7,668.5 301.6,670.3 302.6,671.3 303.5,672.7 303.9,671.9 304.4,676.5 304.8,676.6 305.2,678.7 305.6,680.0 306.1,682.4 306.5,679.8 307.3,681.3 308.1,681.3 308.9,677.8 309.8,676.5 311.0,678.1 312.2,679.4 313.5,681.3 313.8,680.2 314.1,682.4 314.4,682.3 314.8,686.9 315.1,686.7 315.4,688.6 315.7,690.8 316.0,692.2 316.2,691.2 316.5,689.8 316.7,688.6 316.9,686.8 317.1,685.7 317.4,684.3 317.6,682.7 317.8,681.7 318.0,677.8 318.3,677.7 318.5,674.2 320.2,675.2 321.8,674.3 323.5,674.3 323.8,673.4 324.1,672.5 324.4,669.8 324.8,668.0 325.1,671.0 325.4,666.1 325.7,661.5 326.0,660.0 326.1,659.5 326.3,658.7 326.4,656.1 326.6,656.3 326.7,652.3 326.8,651.4 327.0,650.4 327.1,649.1 327.2,649.6 327.4,645.3 327.5,645.8 327.7,644.4 327.8,640.6 327.9,643.1 328.1,640.3 328.2,641.4 328.4,634.8 328.5,635.8 329.0,633.5 329.6,632.3 330.1,630.2 330.6,629.6 331.2,627.0 331.7,627.8 332.2,624.4 333.0,626.7 333.8,626.9 334.5,627.7 335.2,629.5 336.0,628.7 337.7,631.8 339.3,631.4 341.0,632.2 342.2,631.5 343.5,630.1 344.8,630.5 346.0,629.6 347.0,628.1 348.0,627.4 349.0,626.2 350.0,625.2 351.0,624.6 352.2,627.1 353.5,628.4 354.8,628.4 355.4,630.8 356.0,632.2 356.6,632.1 357.2,634.2 357.9,634.6 358.5,635.6 359.8,634.4 361.0,637.0 362.2,638.3 363.5,633.8 364.8,634.3 366.0,634.7 366.7,630.3 367.4,630.6 368.1,629.0 368.9,627.3 369.6,627.4 370.3,622.8 371.0,621.4 371.5,624.5 371.9,624.5 372.4,628.5 372.9,627.1 373.3,630.0 373.8,630.4 374.3,629.2 374.8,634.1 376.3,634.9 377.9,635.3 379.4,636.4 381.0,636.8 382.5,637.3 384.0,639.3 385.5,640.0 387.0,636.4 388.5,639.8 389.1,636.4 389.8,636.8 390.4,640.3 391.0,642.2 391.6,645.3 392.2,648.9 393.7,647.9 395.2,645.3 396.6,643.3 398.1,646.5 399.5,640.5 401.0,641.1 402.2,645.5 403.5,641.9 404.8,643.0 406.0,640.8 407.2,639.7 408.5,639.5 409.1,641.9 409.8,643.7 410.4,646.7 411.0,647.0 412.5,647.0 414.0,646.3 415.5,646.3 417.0,645.6 418.5,647.4 420.0,647.3 420.3,646.6 420.7,644.0 421.0,641.9 421.3,640.8 421.7,639.9 422.0,637.4 423.0,639.4 424.0,641.2 425.0,642.9 426.5,642.3 427.9,643.5 429.4,641.3 430.8,643.2 432.3,639.8 433.8,642.3 434.7,643.4 435.6,644.8 436.6,641.9 437.5,647.5 437.6,645.3 437.8,650.3 437.9,651.7 438.0,649.8 438.1,656.6 438.2,659.5 438.4,659.7 438.5,658.5 438.6,661.2 438.8,658.3 438.9,663.7 439.1,667.7 439.2,668.2 439.4,668.4 439.5,671.6 439.7,672.9 439.8,673.8 440.0,677.2 440.6,674.3 441.2,676.2 441.9,681.5 442.5,680.2 444.1,679.4 445.6,683.8 447.2,682.6 448.8,681.2 449.4,679.2 450.0,674.8 450.6,673.7 451.2,672.5 451.9,673.4 452.5,674.8 453.1,677.2 453.8,679.3 455.2,679.2 456.8,679.0 458.2,677.9 459.8,678.7 461.2,678.0 461.3,675.4 461.4,675.8 461.5,675.1 461.6,671.4 461.7,671.2 461.8,668.3 461.9,669.1 462.0,666.1 462.1,667.1 462.1,663.4 462.2,660.7 462.3,660.1 462.4,659.3 462.5,655.6 463.0,657.6 463.5,663.4 464.0,662.5 464.5,663.6 465.0,666.3 465.2,667.8 465.4,665.5 465.6,668.5 465.8,671.6 466.0,671.2 466.2,673.5 466.4,675.1 466.6,677.9 466.8,676.2 467.0,677.5 467.6,678.8 468.2,683.3 468.8,684.4 469.6,682.7 470.4,680.8 471.2,679.2 472.8,680.0 474.4,681.6 475.9,682.6 477.5,683.0 478.1,681.0 478.8,678.5 479.4,677.7 480.0,679.0 480.8,677.6 481.5,678.6 482.2,679.4 483.0,681.0 483.8,681.8 484.4,683.7 485.1,686.5 485.7,687.8 486.4,685.8 487.0,690.8 487.2,688.8 487.5,687.0 487.8,684.4 488.0,683.2 488.2,679.5 488.5,675.8 488.8,678.3 489.7,676.8 490.6,675.6 491.6,676.4 492.5,675.4 493.8,673.0 495.0,672.0 496.2,672.9 496.9,670.7 497.5,668.8 498.1,670.0 498.8,667.7 499.4,666.8 500.0,664.9 501.2,667.1 502.5,665.6 503.2,667.0 504.0,669.1 504.8,670.7 505.5,672.4 506.2,674.3 508.1,670.7 510.0,674.7 510.9,675.7 511.9,673.5 512.8,677.1 513.8,676.5 515.0,675.4 516.2,671.7 517.5,674.2 518.1,674.6 518.8,670.0 519.4,675.4 520.0,671.0 520.6,668.5 521.2,668.4 522.5,667.0 523.8,663.8 525.0,665.1 525.2,666.5 525.5,661.6 525.8,655.8 526.0,659.1 526.2,657.1 526.5,657.3 526.8,652.7 527.0,652.6 527.2,656.7 527.5,655.5 527.8,657.3 528.0,659.4 528.2,661.5 528.5,662.3 528.8,665.0 529.8,663.4 530.8,663.2 531.8,660.9 532.8,657.6 533.8,658.5 535.4,653.4 537.1,655.6 538.8,658.5 539.7,657.6 540.6,658.4 541.6,661.6 542.5,660.0 543.0,662.2 543.6,664.6 544.1,664.8 544.6,665.5 545.2,670.6 545.7,670.0 546.2,673.9 547.8,672.7 549.4,671.6 550.9,669.7 552.5,667.5 552.7,667.0 552.9,665.4 553.1,665.0 553.3,664.2 553.5,660.1 553.7,659.7 553.9,658.9 554.1,656.7 554.3,655.7 554.5,652.1 555.6,652.3 556.7,650.4 557.8,650.2 558.9,650.5 560.0,650.0 560.4,647.4 560.7,647.3 561.1,646.3 561.4,641.7 561.8,641.1 562.1,638.6 562.5,641.3 563.4,636.8 564.4,634.8 565.3,635.6 566.2,634.3 566.4,632.6 566.6,633.0 566.8,631.4 567.0,627.3 567.2,626.3 567.4,625.1 567.6,624.6 567.8,623.6 568.0,622.3 568.2,623.1 568.4,618.4 568.6,617.6 568.8,615.3 568.8,614.0 568.9,611.9 569.0,610.5 569.1,608.9 569.2,609.9 569.3,608.2 569.4,605.3 569.5,604.2 569.6,602.9 569.7,601.9 569.8,600.6 569.9,594.2 570.0,595.1 571.2,595.4 572.5,594.3 573.0,595.1 573.5,597.9 574.0,598.5 574.5,598.0 575.0,599.4 576.0,600.8 577.0,600.0 578.0,597.7 579.0,597.7 580.0,594.4 581.7,599.9 583.3,595.6 585.0,597.6 585.3,595.7 585.6,593.1 585.9,589.8 586.1,590.3 586.4,588.5 586.7,586.8 587.0,586.6 587.2,587.2 587.5,588.1 587.8,592.0 588.0,591.9 588.2,593.2 588.5,595.0 588.8,597.5 590.0,594.3 591.2,596.7 592.5,596.2 593.8,595.8 595.0,594.1 596.2,592.0 597.5,592.2 597.7,591.0 598.0,590.4 598.2,584.6 598.4,589.2 598.7,585.1 598.9,584.8 599.1,583.9 599.4,582.3 599.6,580.9 599.8,579.4 600.1,576.2 600.3,571.4 600.5,575.9 600.8,573.2 601.0,571.3 601.2,566.8 601.9,569.2 602.5,571.0 603.1,576.4 603.8,575.5 605.0,573.9 606.2,574.1 607.5,574.5 607.9,575.3 608.2,576.8 608.6,579.6 609.0,580.8 609.4,580.5 609.8,583.5 610.1,585.9 610.5,586.6 610.9,588.8 611.2,589.3 611.4,587.6 611.6,585.9 611.8,585.3 612.0,582.7 612.2,580.7 612.4,578.6 612.6,578.7 612.8,577.9 613.0,574.5 613.2,572.8 613.4,570.9 613.6,568.6 613.8,566.8 613.9,570.0 614.1,572.5 614.2,572.8 614.4,574.0 614.5,574.6 614.7,581.1 614.8,578.9 615.0,578.9 616.2,579.6 617.5,579.3 618.8,574.4 620.0,574.3 620.9,576.3 621.9,574.3 622.8,571.8 623.8,569.7 624.2,573.0 624.6,573.3 625.0,575.5 625.4,576.6 625.8,579.1 626.2,581.2 626.6,575.8 627.0,577.1 627.4,574.0 627.8,575.0 628.1,575.2 628.5,572.5 628.9,570.4 629.2,569.4 629.6,566.1 630.0,565.6 630.8,570.2 631.7,568.3 632.5,570.6 633.3,573.1 634.2,572.8 635.0,576.1 635.8,573.9 636.5,572.7 637.2,569.3 638.0,567.4 638.8,564.8 640.0,567.9 641.2,564.3 642.5,565.9 643.1,565.6 643.8,562.4 644.4,559.0 645.0,560.5 645.6,558.5 646.2,559.4 646.6,556.0 646.9,550.8 647.2,552.6 647.5,551.5 647.8,551.0 648.1,550.7 648.4,547.7 648.8,546.9 649.1,543.5 649.4,545.6 649.7,539.0 650.0,539.5 650.2,536.9 650.4,537.4 650.6,535.2 650.8,533.3 651.0,530.6 651.2,533.2 651.5,529.9 651.7,525.8 651.9,528.9 652.1,527.0 652.3,525.2 652.5,523.2 653.1,524.1 653.8,524.5 654.4,526.4 655.0,527.5 655.9,525.0 656.9,524.4 657.8,523.4 658.8,520.7 659.4,524.5 660.0,524.6 660.6,525.6 661.2,529.8 661.9,529.1 662.5,530.0 662.7,531.7 663.0,531.3 663.2,533.1 663.4,536.1 663.6,537.5 663.9,538.5 664.1,539.6 664.3,544.0 664.5,546.9 664.8,543.3 665.0,545.3 665.3,545.4 665.6,538.9 665.9,540.8 666.2,537.2 666.6,536.6 666.9,537.6 667.2,532.8 667.5,533.0 667.8,534.0 668.1,532.0 668.4,529.7 668.8,528.1 669.4,527.6 670.0,533.9 670.6,531.9 671.2,534.6 671.9,535.2 672.5,534.7 673.1,535.9 673.8,538.2 674.4,540.6 675.0,541.0 675.6,543.0 676.2,546.4 676.5,544.8 676.8,543.9 677.1,540.6 677.3,541.4 677.6,537.3 677.9,535.5 678.1,532.1 678.4,531.6 678.7,532.5 678.9,531.3 679.2,530.0 679.5,527.0 679.7,526.0 680.0,524.8 681.2,524.7 682.5,524.3 683.8,520.0 684.7,522.3 685.6,525.9 686.6,525.0 687.5,525.6 688.8,524.9 690.0,527.3 691.2,529.4 692.5,529.7 693.1,529.1 693.8,531.7 694.4,534.2 695.0,536.3 695.9,536.0 696.9,538.1 697.8,535.8 698.8,537.1 699.7,538.9 700.6,537.7 701.6,535.5 702.5,534.8 702.7,531.5 702.9,532.9 703.1,531.0 703.4,526.0 703.6,527.2 703.8,525.5 704.0,524.2 704.2,524.8 704.4,520.4 704.6,520.1 704.9,521.6 705.1,517.4 705.3,514.1 705.5,515.5 705.7,514.4 706.0,516.1 706.2,516.8 706.4,518.1 706.7,520.9 706.9,523.3 707.1,524.2 707.4,525.1 707.6,526.9 707.8,527.0 708.1,532.0 708.3,527.1 708.5,535.2 708.8,534.9 709.2,533.1 709.6,533.2 710.0,531.1 710.4,529.8 710.8,530.7 711.2,527.3 711.7,524.1 712.1,520.9 712.5,521.3 713.4,523.2 714.4,525.7 715.3,527.0 716.2,523.3 716.4,525.9 716.6,523.7 716.8,521.9 717.0,521.3 717.1,515.7 717.3,515.9 717.5,515.6 717.7,513.3 717.9,512.1 718.0,509.1 718.2,508.9 718.4,505.4 718.6,506.7 718.8,502.6 719.0,505.9 719.2,507.8 719.4,508.4 719.6,512.7 719.8,511.8 720.1,514.3 720.3,514.7 720.5,516.7 720.7,512.8 720.9,514.6 721.1,510.8 721.3,508.6 721.5,508.1 721.7,507.0 721.8,509.6 722.0,504.7 722.2,502.3 722.4,501.4 722.6,500.1 722.8,499.3 723.0,495.8 723.2,497.2 723.3,499.0 723.5,502.2 723.6,501.4 723.8,503.8 723.9,507.4 724.1,503.9 724.2,507.2 724.4,508.6 724.5,508.5 724.7,514.6 724.8,514.3 725.0,515.9 725.1,520.2 725.2,519.0 725.3,521.0 725.4,520.4 725.5,524.5 725.6,524.8 725.7,525.1 725.8,526.0 725.9,528.5 726.0,529.4 726.1,530.7 726.2,530.6 727.5,533.8 728.8,532.7 730.0,534.5 730.9,533.5 731.9,530.8 732.8,528.5 733.8,528.2 734.3,530.9 734.8,531.0 735.4,530.2 735.9,533.6 736.4,535.3 737.0,537.0 737.5,538.3 738.8,539.3 740.0,538.9 741.2,536.0 741.6,540.7 742.0,541.8 742.3,545.8 742.7,545.4 743.1,548.3 743.4,549.8 743.8,549.6 744.1,550.3 744.5,554.1 744.9,555.6 745.3,557.5 745.8,560.1 746.2,557.9 746.6,560.3 747.0,563.1 747.5,558.3 748.0,560.0 748.5,557.3 749.0,556.4 749.5,554.6 750.0,552.5 750.3,552.2 750.6,550.6 750.9,547.8 751.2,546.7 751.6,545.8 751.9,542.8 752.2,540.0 752.5,542.3 753.4,539.4 754.4,539.7 755.3,534.2 756.2,535.8 756.9,533.6 757.5,534.2 758.1,530.8 758.8,529.3 759.4,527.6 760.0,524.6 760.8,528.6 761.5,530.2 762.2,534.2 763.0,532.5 763.8,534.5 764.7,533.5 765.6,531.6 766.6,532.0 767.5,531.0 768.8,531.1 770.0,533.6 771.2,534.6 772.5,533.2 773.8,532.8 775.0,531.5 775.3,530.1 775.6,529.7 775.8,527.7 776.1,523.2 776.4,524.7 776.7,523.0 776.9,520.4 777.2,517.2 777.5,518.1 777.8,516.9 778.0,519.1 778.2,513.4 778.5,511.3 778.8,507.1 779.0,506.9 779.2,505.6 779.5,504.8 779.8,503.9 780.0,501.4 780.6,499.0 781.2,498.6 781.9,496.3 782.5,498.0 783.1,497.1 783.8,495.6 784.3,494.9 784.8,493.2 785.4,492.0 785.9,487.7 786.4,487.8 787.0,489.7 787.5,486.5 787.8,484.4 788.1,481.9 788.4,482.1 788.8,479.1 789.1,476.9 789.4,476.3 789.7,474.1 790.0,471.3 790.9,471.7 791.9,472.9 792.8,473.9 793.8,476.3 794.7,475.3 795.6,474.7 796.6,470.1 797.5,469.8 798.4,472.2 799.4,473.5 800.3,473.1 801.2,474.9 802.5,475.6 803.8,474.1 804.5,476.4 805.2,477.6 806.0,477.0 806.8,479.0 807.5,480.5 808.8,480.9 810.0,481.2 811.2,481.6 811.4,478.3 811.5,476.3 811.6,472.7 811.8,471.2 811.9,471.7 812.0,468.0 812.1,464.0 812.2,468.5 812.4,461.1 812.5,462.5 812.6,461.7 812.8,463.5 812.9,457.9 813.0,458.4 813.1,457.0 813.2,454.5 813.4,452.3 813.5,450.8 813.6,447.7 813.8,447.5 813.9,446.4 814.0,446.0 814.2,446.1 814.3,442.6 814.4,440.1 814.6,437.9 814.7,437.8 814.8,431.9 814.9,435.8 815.1,433.3 815.2,432.8 815.3,431.0 815.5,428.0 815.6,426.4 815.7,426.7 815.9,424.0 816.0,426.8 816.1,423.2 816.2,419.8 816.9,419.2 817.5,423.6 818.1,425.1 818.8,426.5 819.4,422.7 820.0,423.2 820.9,422.2 821.9,419.9 822.8,422.8 823.8,419.2 823.9,416.7 824.1,413.8 824.2,410.4 824.4,409.0 824.6,410.2 824.8,408.5 824.9,406.6 825.1,406.6 825.2,405.0 825.4,405.2 825.6,402.6 825.8,400.2 825.9,399.7 826.1,394.1 826.2,393.9 826.3,395.5 826.4,397.5 826.5,400.3 826.6,400.2 826.6,405.2 826.7,407.1 826.8,406.9 826.9,408.0 826.9,405.1 827.0,411.2 827.1,411.5 827.2,413.1 827.2,415.9 827.3,416.7 827.4,417.3 827.5,421.0 827.5,419.9 827.6,424.2 827.7,423.3 827.8,422.9 827.8,425.4 827.9,429.7 828.0,430.4 828.1,433.4 828.2,426.2 828.3,424.2 828.4,426.0 828.5,423.6 828.5,418.4 828.6,420.4 828.7,420.1 828.8,416.3 828.9,415.6 829.0,414.8 829.1,413.4 829.2,411.9 829.3,410.3 829.4,406.6 829.5,406.7 829.5,406.9 829.6,402.7 829.7,400.1 829.8,400.4 829.9,396.6 830.0,397.7 830.9,399.0 831.9,391.8 832.8,397.9 833.8,392.1 834.7,389.2 835.6,389.8 836.6,388.5 837.5,388.9 837.9,386.0 838.2,384.1 838.6,383.5 838.9,384.9 839.3,382.4 839.6,377.5 840.0,378.9 841.2,380.0 842.5,380.7 842.9,378.8 843.3,380.0 843.7,374.0 844.1,372.7 844.5,370.6 844.7,375.8 844.9,376.9 845.1,376.5 845.3,378.4 845.5,382.6 845.8,380.9 846.0,384.7 846.2,387.1 846.4,387.8 846.6,389.2 846.8,389.6 847.0,389.1 847.3,394.0 847.7,395.9 848.0,395.4 848.3,393.0 848.7,396.1 849.0,398.2 849.3,400.8 849.7,402.8 850.0,403.9 850.5,401.2 851.0,400.9 851.5,398.3 852.0,397.6 852.5,395.4 852.7,395.9 852.8,401.4 853.0,399.7 853.2,400.6 853.3,404.1 853.5,405.0 853.7,405.6 853.8,408.2 854.0,408.6 854.2,409.2 854.3,411.2 854.5,412.1 854.7,416.5 854.8,416.2 855.0,418.6 855.2,420.4 855.3,421.2 855.5,423.1 855.6,422.2 855.8,417.7 855.9,419.0 856.1,416.6 856.2,414.8 856.4,413.9 856.5,412.5 856.7,411.8 856.8,408.2 857.0,405.3 857.1,406.5 857.3,402.1 857.4,401.5 857.6,401.3 857.7,398.4 857.9,397.3 858.0,397.3 858.3,397.0 858.5,399.0 858.8,404.6 859.1,404.7 859.4,406.4 859.6,406.9 859.9,406.3 860.2,408.7 860.4,411.5 860.7,412.4 861.0,409.5 861.2,413.0 861.5,413.7 861.8,411.5 862.1,411.5 862.3,409.6 862.6,407.9 862.9,405.2 863.1,403.9 863.4,402.8 863.7,402.5 864.0,399.5 864.2,400.1 864.5,398.5 864.8,397.0 865.1,395.0 865.4,394.1 865.7,392.4 866.0,390.8 866.3,389.2 866.6,386.5 866.9,388.1 867.2,384.7 867.5,385.5 868.8,384.9 870.0,384.7 871.2,386.3 872.2,386.0 873.1,384.8 874.1,380.6 875.0,379.8 876.2,381.1 877.5,383.3 878.8,380.5 879.0,384.8 879.3,387.3 879.6,392.0 879.8,394.9 880.1,390.7 880.4,393.4 880.6,394.4 880.9,395.9 881.2,399.8 881.4,399.2 881.7,403.2 882.0,402.7 882.2,401.5 882.5,402.6 883.4,404.9 884.4,400.2 885.3,400.9 886.2,400.2 886.9,400.4 887.5,398.3 888.1,396.4 888.8,397.0 889.4,393.9 890.0,389.8 890.4,392.7 890.8,387.6 891.1,390.6 891.5,387.7 891.9,386.3 892.2,385.2 892.6,380.3 893.0,381.7 893.4,378.5 893.8,373.5 894.2,379.5 894.6,382.4 895.0,382.1 895.4,385.0 895.8,384.6 896.2,387.7 896.6,388.9 897.0,391.6 897.6,390.6 898.2,387.7 898.8,383.8 899.4,384.5 900.0,381.6 900.2,383.3 900.4,385.9 900.6,385.1 900.8,387.5 901.0,390.2 901.2,393.2 901.5,392.5 901.7,391.9 901.9,395.8 902.1,397.4 902.3,400.3 902.5,401.7 902.7,401.8 902.8,404.3 903.0,406.6 903.1,403.8 903.3,406.0 903.4,407.7 903.6,409.6 903.7,411.6 903.9,415.1 904.0,414.5 904.2,417.0 904.3,417.5 904.5,420.5 904.8,418.8 905.0,416.7 905.2,418.3 905.5,412.2 905.8,413.7 906.0,409.9 906.2,408.0 906.5,409.4 906.8,406.9 907.0,403.5 907.3,405.2 907.5,407.0 907.8,409.3 908.1,412.6 908.3,412.0 908.6,413.9 908.9,414.4 909.1,416.4 909.4,416.3 909.7,420.7 909.9,421.4 910.2,419.4 910.5,424.5 910.7,425.8 911.0,425.6 911.2,425.3 911.5,425.7 911.7,424.8 911.9,424.3 912.2,424.3 912.4,424.1 912.6,421.5 912.9,421.7 913.1,420.3 913.3,416.3 913.6,413.9 913.8,413.1 914.0,412.0 914.3,409.9 914.5,406.7 915.9,406.7 917.3,408.3 918.8,406.1 919.5,405.2 920.2,403.5 921.0,402.3 921.8,401.9 922.5,398.7 923.1,401.9 923.8,400.9 924.4,404.2 925.0,407.3 925.6,407.4 926.2,408.5 927.0,408.7 927.8,411.5 928.5,411.8 929.2,412.3 930.0,415.6 931.7,412.0 933.3,411.1 935.0,415.4 935.1,413.0 935.3,418.0 935.4,419.3 935.5,419.4 935.7,419.9 935.8,420.8 935.9,419.5 936.0,425.1 936.2,430.4 936.3,429.1 936.4,431.4 936.6,431.3 936.7,432.5 936.8,432.4 937.0,435.2 937.1,435.4 937.2,437.2 937.3,441.1 937.5,441.8 937.6,443.1 937.7,444.1 937.9,446.2 938.0,449.6 938.2,444.8 938.4,440.6 938.5,440.2 938.7,440.3 938.9,438.1 939.1,440.4 939.3,438.9 939.4,434.6 939.6,434.8 939.8,432.0 940.0,430.2 940.2,429.4 940.3,427.3 940.5,425.1 940.7,424.7 940.9,423.9 941.1,420.2 941.2,422.7 942.0,417.1 942.8,417.9 943.5,415.8 944.2,414.7 945.0,412.8 945.8,415.1 946.7,409.6 947.5,411.8 948.0,412.9 948.6,414.4 949.1,414.8 949.6,414.4 950.2,413.2 950.7,416.0 951.2,420.1 952.1,421.7 952.9,421.5 953.8,422.7 954.6,424.0 955.4,425.0 956.2,429.8 956.9,424.4 957.5,424.0 958.1,423.9 958.8,420.9 959.4,419.9 960.0,419.7 961.2,421.8 962.5,421.5 963.8,423.4 963.9,419.8 964.1,417.7 964.3,416.9 964.5,412.9 964.7,413.4 964.9,412.1 965.1,410.1 965.3,412.0 965.5,403.3 965.7,406.0 965.9,409.8 966.1,404.9 966.2,401.1 967.5,401.1 968.8,402.3 970.0,399.2 971.2,398.9 972.5,396.5 973.8,397.4 974.0,392.6 974.2,392.5 974.4,389.4 974.7,391.3 974.9,389.6 975.1,384.6 975.3,386.3 975.6,386.5 975.8,383.3 976.0,382.3 976.2,384.4 976.6,385.9 977.0,384.7 977.4,386.9 977.8,386.2 978.1,388.9 978.5,389.0 978.9,392.5 979.2,392.1 979.6,394.3 980.0,396.1 980.6,393.6 981.2,394.9 981.9,392.6 982.5,395.9 983.1,391.8 983.8,386.8 985.0,389.2 986.2,389.9 987.5,393.5 988.5,391.6 989.5,392.6 990.5,393.3 991.5,393.8 992.5,394.3 993.8,394.1 995.0,394.8 996.2,392.7 997.5,393.8 998.8,396.2 1000.0,394.3 1000.5,394.2 1001.1,390.6 1001.6,389.5 1002.1,388.1 1002.7,387.2 1003.2,385.2 1003.8,386.2 1004.7,383.2 1005.6,380.6 1006.6,380.4 1007.5,378.0 1008.8,380.2 1010.0,381.4 1011.2,382.1 1012.0,382.8 1012.8,383.6 1013.5,383.7 1014.2,387.5 1015.0,389.4 1016.2,392.3 1017.5,389.6 1018.8,392.1 1019.1,390.9 1019.5,394.8 1019.8,392.5 1020.2,395.9 1020.5,393.2 1020.9,402.3 1021.2,400.6 1022.5,400.6 1023.8,400.6 1025.0,400.2 1026.2,402.1 1027.5,399.3 1028.8,402.8 1029.3,401.6 1029.8,401.5 1030.4,403.8 1030.9,405.6 1031.4,405.8 1032.0,409.7 1032.5,410.7 1033.4,407.1 1034.4,404.7 1035.3,404.3 1036.2,404.4 1036.7,409.4 1037.1,406.5 1037.5,409.6 1037.9,410.4 1038.3,412.4 1038.8,414.3 1039.2,416.6 1039.6,417.0 1040.0,418.9 1040.3,419.0 1040.6,419.7 1040.9,420.7 1041.2,423.0 1041.5,425.3 1041.8,426.1 1042.1,427.5 1042.4,429.9 1042.7,432.4 1043.0,430.6 1043.5,429.9 1043.9,428.6 1044.4,426.2 1044.9,427.1 1045.3,424.5 1045.8,421.5 1046.2,422.2 1047.2,424.7 1048.1,423.6 1049.1,425.2 1050.0,430.8 1050.9,425.8 1051.9,424.7 1052.8,424.7 1053.8,421.0 1054.4,419.6 1055.0,419.9 1055.7,416.3 1056.3,415.4 1057.0,419.2 1057.3,417.1 1057.7,417.3 1058.0,419.7 1058.3,421.4 1058.7,422.5 1059.0,423.8 1059.3,428.0 1059.7,430.7 1060.0,431.3 1060.2,431.9 1060.4,432.7 1060.6,433.8 1060.8,440.2 1060.9,438.4 1061.1,440.9 1061.3,442.4 1061.5,440.6 1061.7,444.4 1061.9,446.4 1062.1,446.4 1062.2,447.1 1062.4,449.3 1062.6,450.1 1062.8,452.7 1063.0,452.7 1063.2,455.5 1063.4,455.9 1063.6,461.7 1063.8,460.6 1064.0,459.5 1064.3,456.2 1064.6,455.5 1064.8,455.3 1065.1,452.1 1065.4,451.5 1065.6,451.3 1065.9,448.0 1066.2,447.4 1066.5,442.1 1066.7,443.1 1067.0,442.5 1067.3,443.4 1067.6,443.5 1067.8,446.6 1068.1,450.4 1068.4,449.7 1068.7,448.4 1068.9,453.5 1069.2,454.4 1069.5,455.3 1069.7,455.2 1070.0,452.3 1070.2,455.5 1070.4,452.2 1070.7,450.0 1070.9,449.0 1071.1,448.1 1071.3,443.7 1071.6,444.1 1071.8,442.2 1072.0,439.3 1072.3,438.1 1072.5,436.9 1073.1,440.3 1073.8,440.8 1074.4,443.1 1075.0,442.4 1075.6,441.1 1076.2,444.6 1076.8,443.4 1077.3,442.1 1077.9,440.1 1078.4,439.0 1078.9,439.9 1079.5,436.6 1080.0,434.1 1080.2,433.2 1080.5,431.0 1080.8,430.3 1081.0,428.6 1081.2,426.9 1081.5,424.2 1081.8,424.0 1082.0,423.7 1082.2,423.6 1082.5,422.2 1082.8,419.1 1083.0,416.4 1083.2,415.5 1083.5,412.0 1083.8,412.2 1084.4,409.6 1085.0,410.6 1085.6,408.7 1086.2,405.0 1086.7,406.7 1087.1,407.1 1087.5,408.6 1087.9,410.6 1088.3,414.1 1088.8,414.8 1089.1,412.8 1089.4,411.9 1089.7,411.4 1090.0,408.0 1090.3,408.5 1090.6,405.9 1090.9,402.6 1091.2,403.6 1091.6,401.8 1091.9,402.2 1092.2,400.2 1092.5,396.7 1093.8,396.8 1095.0,395.8 1096.2,395.3 1096.9,394.7 1097.5,397.6 1098.1,401.2 1098.8,401.0 1099.4,403.6 1100.0,401.7 1100.6,406.2 1101.2,407.5 1101.8,408.4 1102.4,406.8 1103.0,409.1 1103.3,410.3 1103.5,406.1 1103.8,406.4 1104.1,405.4 1104.4,402.5 1104.6,400.3 1104.9,398.1 1105.2,397.9 1105.4,397.7 1105.7,391.9 1106.0,393.5 1106.2,392.1 1107.3,392.8 1108.4,389.4 1109.5,383.8 1109.8,389.2 1110.2,392.1 1110.5,393.1 1110.8,395.7 1111.2,395.3 1111.5,398.3 1111.8,398.0 1112.2,401.9 1112.5,401.3 1113.1,404.1 1113.8,402.2 1114.4,406.0 1115.0,410.2 1115.6,406.6 1116.2,410.2 1116.6,410.7 1117.0,411.0 1117.4,412.4 1117.8,416.6 1118.1,416.1 1118.5,418.9 1118.9,420.4 1119.2,421.5 1119.6,423.1 1120.0,426.0 1120.2,427.6 1120.5,428.6 1120.7,430.7 1120.9,429.8 1121.2,432.8 1121.4,435.2 1121.6,433.8 1121.8,435.6 1122.1,437.9 1122.3,438.9 1122.5,443.6 1122.8,444.5 1123.0,441.6 1123.0,448.2 1123.1,446.4 1123.1,451.8 1123.2,451.7 1123.2,453.1 1123.3,457.0 1123.3,453.1 1123.4,455.4 1123.4,458.8 1123.4,459.8 1123.5,460.7 1123.5,462.5 1123.6,463.6 1123.6,468.2 1123.7,467.9 1123.7,471.9 1123.8,471.6 1123.8,470.6 1123.8,474.3 1123.9,475.7 1123.9,474.6 1124.0,479.4 1124.0,479.8 1124.1,480.3 1124.1,484.5 1124.2,484.3 1124.2,484.6 1124.2,488.3 1124.3,486.1 1124.4,482.7 1124.5,482.7 1124.5,478.7 1124.6,480.2 1124.7,477.7 1124.8,477.5 1124.8,476.2 1124.9,474.0 1125.0,473.2 1125.0,471.6 1125.1,466.8 1125.2,465.8 1125.2,464.7 1125.3,464.8 1125.4,464.4 1125.5,465.6 1125.5,459.1 1125.6,457.6 1125.7,456.3 1125.8,456.5 1125.8,456.2 1125.9,453.9 1126.0,451.4 1126.0,451.6 1126.1,447.7 1126.2,448.1 1126.2,443.3 1126.5,446.2 1126.7,448.8 1126.9,450.2 1127.1,450.7 1127.3,453.8 1127.6,455.9 1127.8,457.2 1128.0,457.7 1128.1,456.6 1128.2,452.7 1128.3,453.9 1128.4,454.2 1128.5,450.2 1128.7,454.9 1128.8,447.4 1128.9,447.1 1129.0,442.6 1129.1,444.8 1129.2,440.9 1129.3,439.0 1129.4,438.1 1129.5,435.1 1129.6,433.1 1129.7,435.2 1129.8,431.7 1130.0,429.1 1130.1,426.9 1130.2,427.2 1130.3,425.0 1130.4,429.1 1130.5,423.1 1130.8,423.7 1131.1,423.4 1131.4,426.0 1131.8,429.1 1132.1,431.0 1132.4,431.2 1132.7,429.7 1133.0,434.1 1133.7,428.4 1134.3,432.7 1135.0,431.2 1135.6,426.5 1136.2,428.3 1136.5,428.9 1136.7,431.3 1136.9,432.4 1137.1,435.9 1137.3,434.8 1137.6,439.1 1137.8,438.0 1138.0,440.3 1138.3,436.7 1138.6,440.6 1138.9,434.9 1139.2,433.3 1139.6,433.4 1139.9,431.2 1140.2,426.2 1140.5,425.2 1140.7,429.2 1140.9,430.8 1141.1,433.7 1141.3,434.3 1141.5,434.7 1141.8,436.8 1142.0,435.9 1142.2,436.8 1142.4,439.7 1142.6,440.8 1142.8,441.1 1143.0,446.2 1143.5,444.2 1143.9,443.5 1144.4,439.4 1144.9,438.0 1145.3,436.1 1145.8,436.5 1146.2,437.2 1147.1,433.8 1147.9,431.1 1148.7,430.2 1149.5,430.2 1150.1,431.8 1150.7,430.9 1151.3,435.8 1151.9,435.1 1152.5,438.0 1152.9,436.3 1153.2,435.0 1153.6,433.3 1153.9,433.2 1154.3,428.8 1154.6,427.2 1155.0,431.4 1156.2,428.6 1157.5,429.1 1157.7,431.4 1157.8,427.2 1158.0,425.2 1158.2,427.0 1158.3,425.2 1158.5,421.5 1158.7,416.9 1158.8,417.6 1159.0,416.0 1159.2,413.6 1159.3,411.9 1159.5,412.8 1161.0,411.3 1162.5,411.8 1163.1,409.9 1163.8,414.4 1164.4,415.1 1165.0,418.3 1165.6,418.7 1166.2,420.5 1166.5,420.6 1166.8,421.5 1167.0,422.6 1167.2,429.0 1167.5,427.9 1167.8,428.6 1168.0,429.3 1168.2,430.3 1168.5,432.0 1168.8,433.9 1170.0,433.9 1171.2,433.3 1172.5,431.6 1173.1,433.1 1173.8,436.7 1174.4,438.7 1175.0,439.6 1175.6,439.5 1176.2,438.3 1177.5,435.8 1178.8,437.4 1180.0,437.0 1180.4,440.4 1180.8,443.1 1181.2,438.4 1181.7,441.1 1182.1,442.9 1182.5,444.8 1182.9,448.1 1183.3,451.2 1183.8,450.6 1184.0,450.3 1184.2,450.8 1184.5,451.8 1184.8,453.7 1185.0,460.2 1185.2,460.1 1185.5,461.3 1185.8,459.9 1186.0,461.0 1186.2,462.9 1186.5,466.2 1186.8,466.7 1187.0,468.1 1187.5,468.7 1188.0,465.9 1188.5,462.9 1189.0,461.1 1189.5,461.6 1190.0,457.4 1190.2,458.7 1190.5,457.2 1190.8,452.3 1191.0,452.2 1191.2,450.8 1191.5,452.3 1191.8,447.6 1192.0,448.0 1192.2,448.2 1192.5,445.9 1193.8,444.0 1195.0,443.1 1196.2,443.3 1196.7,439.8 1197.2,438.2 1197.7,438.0 1198.1,437.6 1198.6,437.4 1199.1,439.5 1199.5,433.6 1200.0,429.7 1201.2,429.6 1202.5,430.7 1203.8,429.9 1204.1,430.7 1204.4,433.1 1204.7,432.7 1205.0,434.8 1205.3,437.8 1205.6,439.7 1205.9,440.7 1206.2,441.2 1206.5,437.7 1206.7,439.8 1206.9,438.3 1207.2,436.2 1207.4,431.7 1207.6,431.9 1207.8,433.6 1208.1,427.9 1208.3,431.2 1208.5,428.5 1208.8,423.8 1209.1,423.3 1209.5,422.4 1209.8,421.6 1210.2,417.5 1210.5,417.3 1210.9,413.5 1211.2,416.3 1212.5,416.6 1213.8,417.1 1215.0,416.2 1215.9,415.1 1216.9,415.8 1217.8,417.6 1218.8,411.8 1220.0,415.6 1221.2,414.0 1222.5,414.6 1223.0,414.6 1223.4,412.5 1223.9,411.1 1224.4,407.7 1224.8,405.3 1225.3,406.2 1225.8,403.8 1226.2,404.3 1227.5,404.3 1228.8,403.3 1230.0,403.7 1230.3,406.0 1230.7,407.4 1231.0,408.7 1231.3,409.6 1231.7,411.1 1232.0,413.6 1232.3,414.0 1232.7,414.7 1233.0,416.8 1233.4,417.6 1233.8,419.7 1234.2,423.5 1234.6,423.2 1235.0,423.3 1235.4,426.7 1235.8,426.3 1236.2,430.2 1237.0,427.4 1237.8,426.3 1238.5,424.9 1239.2,425.4 1240.0,422.7 1241.2,422.8 1242.5,420.3 1243.2,420.4 1244.0,415.5 1244.8,416.1 1245.5,412.3 1246.2,417.6 1246.8,418.6 1247.5,418.0 1248.1,417.4 1248.8,423.6 1249.2,427.8 1249.6,425.5 1250.0,424.4 1250.4,429.2 1250.8,429.5 1251.2,428.9 1251.6,432.3 1252.0,435.9 1252.3,436.1 1252.7,430.6 1253.0,429.7 1253.3,428.0 1253.7,426.4 1254.0,425.2 1254.3,422.8 1254.7,419.7 1255.0,420.2 1255.8,418.0 1256.5,416.3 1257.2,414.9 1258.0,416.0 1258.2,411.9 1258.5,413.2 1258.8,411.8 1259.0,410.7 1259.2,409.5 1259.5,407.2 1259.8,406.0 1260.0,405.1 1260.2,403.9 1260.5,400.6 1261.3,397.4 1262.1,394.7 1262.9,395.3 1263.8,394.5 1264.7,396.4 1265.6,392.0 1266.6,389.5 1267.5,390.4 1268.8,391.5 1270.0,391.4 1271.2,394.9 1272.5,395.9 1273.8,394.5 1274.4,395.2 1275.0,397.1 1275.6,398.6 1276.2,401.2 1276.9,402.1 1277.5,401.4 1278.1,400.0 1278.7,400.7 1279.3,397.7 1279.9,396.1 1280.5,393.2 1281.6,396.9 1282.7,397.8 1283.8,397.5 1284.1,396.9 1284.5,394.9 1284.8,396.4 1285.2,393.4 1285.6,390.8 1285.9,388.0 1286.3,385.5 1286.6,387.1 1287.0,384.5 1287.3,381.8 1287.6,386.5 1287.9,382.8 1288.2,381.3 1288.6,378.3 1288.9,376.3 1289.2,377.4 1289.5,373.3 1290.1,375.6 1290.7,377.2 1291.3,376.9 1291.9,380.5 1292.5,378.7 1293.0,380.8 1293.6,382.2 1294.1,385.6 1294.6,384.5 1295.2,387.8 1295.7,391.4 1296.2,390.3 1297.0,392.2 1297.7,390.4 1298.4,396.5 1299.1,396.5 1299.8,396.9 1300.5,396.7 1300.7,395.3 1300.9,394.6 1301.2,393.1 1301.4,393.8 1301.6,391.2 1301.8,392.5 1302.1,386.5 1302.3,385.5 1302.5,386.1 1302.7,385.0 1302.8,380.4 1303.0,377.3 1303.1,378.3 1303.3,376.9 1303.4,376.1 1303.6,373.9 1303.7,372.9 1303.9,370.4 1304.0,369.1 1304.2,367.2 1304.3,366.4 1304.5,362.9 1305.2,361.0 1306.0,360.0 1306.8,363.7 1307.5,360.5 1308.2,359.0 1309.0,356.5 1309.8,356.5 1310.5,356.2 1310.7,353.8 1310.9,351.0 1311.1,353.7 1311.3,349.5 1311.5,348.1 1311.7,343.9 1311.8,344.0 1312.0,344.0 1312.2,341.8 1312.4,339.2 1312.6,339.6 1312.8,335.7 1313.0,333.4 1313.2,335.3 1313.3,332.0 1313.5,330.9 1313.7,330.0 1313.8,329.9 1314.0,327.0 1314.2,325.7 1314.3,323.2 1314.5,322.2 1314.7,319.4 1314.8,318.5 1315.0,316.6 1315.2,315.8 1315.5,316.5 1315.8,314.7 1316.0,313.0 1316.2,311.7 1316.5,311.0 1316.8,303.6 1317.0,305.4 1317.2,303.4 1317.5,301.5 1317.7,302.2 1317.9,304.5 1318.1,306.0 1318.3,307.4 1318.5,309.9 1318.8,311.5 1319.0,313.9 1319.2,314.6 1319.4,315.8 1319.6,317.0 1319.8,319.9 1320.0,323.6 1320.4,319.5 1320.8,317.1 1321.1,317.5 1321.5,314.1 1321.9,313.1 1322.2,313.0 1322.6,312.0 1323.0,308.2 1324.6,310.2 1326.2,310.5 1326.9,309.3 1327.5,310.8 1328.1,304.1 1328.8,307.1 1329.4,303.0 1330.0,301.2 1330.4,301.5 1330.7,297.8 1331.1,300.6 1331.4,297.5 1331.8,297.3 1332.1,295.3 1332.5,293.1 1333.0,291.4 1333.5,290.3 1334.0,287.5 1334.5,287.0 1335.0,286.1 1335.5,284.6 1336.6,285.3 1337.8,286.6 1338.9,288.4 1340.0,292.8 1340.2,289.0 1340.5,291.2 1340.7,291.9 1340.9,296.2 1341.2,296.5 1341.4,294.9 1341.6,298.6 1341.8,300.1 1342.1,299.4 1342.3,303.4 1342.5,303.2 1342.8,306.0 1343.0,305.8 1343.4,306.7 1343.7,305.2 1344.1,301.0 1344.4,300.6 1344.8,296.9 1345.2,297.5 1345.5,293.3 1345.9,293.7 1346.2,292.4 1347.2,291.0 1348.1,289.2 1349.1,288.7 1350.0,288.3 1350.9,290.3 1351.9,290.1 1352.8,290.5 1353.8,291.9 1354.4,292.5 1355.0,296.3 1355.7,296.1 1356.3,296.9 1357.0,294.2 1357.1,297.0 1357.3,294.8 1357.4,293.9 1357.6,291.9 1357.7,289.6 1357.9,288.7 1358.0,286.8 1358.2,286.4 1358.3,284.9 1358.5,280.0 1358.6,279.7 1358.8,280.4 1358.9,278.9 1359.1,279.2 1359.2,276.5 1359.4,274.5 1359.5,272.8 1359.8,275.9 1360.1,278.7 1360.4,278.0 1360.8,277.7 1361.1,280.1 1361.4,282.3 1361.7,282.9 1362.0,284.1 1362.6,282.0 1363.2,281.1 1363.8,281.1 1364.4,278.2 1365.0,277.3 1365.6,279.4 1366.2,280.9 1366.8,282.3 1367.4,279.2 1368.0,283.8 1368.3,286.2 1368.6,285.5 1368.9,289.4 1369.2,291.3 1369.6,292.6 1369.9,295.8 1370.2,295.7 1370.5,296.8 1370.7,293.7 1371.0,292.9 1371.2,291.8 1371.4,291.8 1371.6,288.5 1371.9,287.8 1372.1,285.5 1372.3,285.2 1372.5,280.7 1372.8,280.6 1373.0,279.8 1374.1,278.4 1375.2,275.7 1376.2,281.2 1376.9,279.3 1377.5,274.5 1378.1,273.7 1378.8,272.4 1379.4,270.8 1380.0,265.4 1380.4,268.4 1380.9,266.3 1381.3,264.5 1381.7,263.8 1382.1,261.3 1382.6,259.1 1383.0,260.4 1383.3,260.8 1383.5,259.5 1383.8,263.1 1384.1,266.7 1384.4,270.8 1384.6,271.3 1384.9,270.9 1385.2,270.5 1385.4,272.0 1385.7,272.4 1386.0,275.0 1386.2,275.8 1386.4,275.7 1386.6,280.1 1386.8,280.6 1387.0,282.7 1387.2,283.8 1387.4,286.7 1387.6,287.0 1387.8,287.6 1388.0,291.7 1388.2,292.5 1388.4,294.1 1388.5,294.5 1388.7,294.8 1388.9,296.1 1389.1,299.4 1389.3,302.4 1389.5,302.9 1389.8,300.7 1390.0,299.5 1390.2,297.0 1390.5,298.1 1390.8,292.5 1391.0,294.7 1391.2,291.7 1391.5,289.9 1391.8,289.4 1392.0,286.2 1392.3,288.3 1392.6,290.4 1392.9,293.0 1393.2,293.6 1393.5,295.9 1393.8,296.8 1394.1,297.5 1394.4,299.9 1394.7,301.1 1395.0,303.1 1395.3,301.3 1395.6,299.3 1395.9,299.9 1396.2,296.4 1396.6,293.2 1396.9,294.4 1397.2,289.9 1397.5,292.9 1397.8,287.8 1398.1,285.9 1398.4,287.0 1398.8,286.0 1399.2,285.8 1399.7,286.1 1400.1,289.0 1400.6,291.4 1401.1,295.7 1401.5,293.4 1402.0,294.1 1403.1,294.1 1404.1,295.7 1405.2,302.2 1406.2,298.9 1406.9,303.7 1407.5,301.5 1408.2,301.0 1408.8,302.9 1409.5,302.2 1410.1,303.5 1410.7,303.0 1411.3,302.3 1411.9,303.7 1412.5,298.1 1413.0,295.5 1413.6,293.2 1414.1,293.1 1414.6,291.1 1415.2,291.6 1415.7,292.6 1416.2,286.6 1417.3,285.7 1418.4,284.5 1419.5,286.5 1419.9,282.1 1420.4,281.6 1420.8,277.1 1421.2,278.3 1421.6,277.3 1422.1,278.9 1422.5,276.5 1422.8,277.7 1423.0,276.9 1423.2,279.9 1423.5,281.8 1423.8,284.9 1424.0,286.0 1424.2,285.5 1424.5,286.2 1424.8,287.3 1425.0,292.5 1425.2,291.8 1425.5,291.7 1425.9,293.9 1426.2,297.4 1426.6,298.5 1426.9,298.3 1427.3,298.9 1427.7,302.9 1428.0,301.8 1428.4,304.8 1428.8,306.2 1429.3,305.3 1429.8,302.0 1430.4,299.3 1430.9,298.7 1431.5,298.1 1432.0,294.2 1432.3,295.9 1432.7,296.6 1433.0,299.7 1433.3,302.6 1433.7,304.9 1434.0,305.1 1434.3,305.2 1434.7,307.4 1435.0,312.0 1435.2,307.9 1435.5,305.2 1435.7,305.9 1435.9,302.4 1436.2,299.9 1436.4,299.6 1436.6,297.6 1436.8,297.2 1437.1,296.5 1437.3,292.7 1437.5,291.0 1437.8,289.8 1438.0,290.3 1438.5,288.8 1438.9,285.9 1439.4,286.5 1439.9,283.7 1440.3,281.9 1440.8,280.9 1441.2,280.1 1441.6,278.5 1441.9,277.7 1442.2,272.0 1442.6,272.6 1442.9,271.5 1443.2,269.6 1443.6,271.8 1443.9,268.0 1444.2,265.6 1444.5,266.7 1444.7,268.5 1444.9,272.6 1445.1,270.9 1445.4,276.4 1445.6,273.3 1445.8,275.0 1446.0,276.7 1446.2,278.3 1446.4,277.1 1446.6,278.1 1446.8,275.8 1447.0,275.7 1447.2,272.5 1447.4,268.2 1447.6,267.6 1447.8,266.3 1448.0,265.8 1448.2,264.4 1448.4,263.9 1448.6,260.2 1448.8,259.0 1449.1,260.8 1449.4,264.1 1449.7,264.1 1450.0,266.0 1450.4,269.2 1450.7,268.9 1451.0,270.9 1451.3,272.0 1451.7,275.2 1452.0,274.8 1452.4,271.9 1452.9,271.7 1453.3,266.2 1453.8,265.9 1454.2,267.3 1454.6,265.8 1455.1,265.6 1455.5,257.9 1456.6,263.5 1457.7,267.3 1458.8,266.6 1459.1,267.4 1459.4,268.8 1459.7,271.6 1460.0,274.0 1460.4,274.1 1460.7,276.1 1461.0,279.1 1461.3,280.4 1461.7,282.4 1462.0,280.7 1462.4,279.0 1462.9,278.0 1463.3,276.4 1463.7,276.9 1464.1,274.7 1464.6,272.4 1465.0,270.9 1465.6,271.5 1466.2,272.3 1466.9,270.3 1467.5,266.6 1468.1,267.3 1468.8,263.1 1469.1,265.4 1469.5,267.4 1469.8,270.6 1470.2,271.2 1470.6,273.1 1470.9,273.8 1471.3,277.4 1471.6,276.5 1472.0,279.4 1472.2,280.1 1472.4,282.4 1472.6,285.2 1472.8,286.8 1472.9,288.3 1473.1,289.7 1473.3,291.0 1473.5,290.7 1473.7,295.6 1473.9,294.9 1474.1,293.3 1474.2,297.6 1474.4,297.8 1474.6,299.0 1474.8,300.1 1475.0,302.3 1475.1,299.0 1475.3,299.0 1475.4,300.9 1475.6,296.3 1475.7,296.3 1475.8,294.1 1476.0,291.4 1476.1,290.0 1476.2,289.1 1476.4,288.6 1476.5,286.8 1476.7,284.4 1476.8,281.7 1476.9,282.5 1477.1,278.5 1477.2,277.5 1477.4,280.5 1477.5,276.1 1477.9,278.3 1478.2,281.8 1478.6,280.0 1479.0,281.9 1479.4,285.6 1479.8,284.7 1480.1,284.9 1480.5,287.2 1480.9,289.6 1481.2,289.9 1481.9,283.6 1482.5,287.2 1483.1,285.9 1483.8,285.1 1484.4,281.9 1485.0,283.8 1485.5,282.0 1485.9,285.5 1486.4,288.5 1486.9,289.9 1487.3,291.1 1487.8,292.3 1488.3,292.7 1488.8,291.2 1489.5,292.2 1490.2,292.4 1491.0,289.3 1491.8,288.9 1492.5,288.9 1493.4,289.3 1494.4,291.8 1495.3,290.9 1496.2,296.3 1496.9,296.0 1497.5,291.9 1498.2,290.3 1498.8,288.2 1499.5,285.4 1500.4,289.0 1501.2,294.0 1502.1,292.8 1503.0,289.3 1503.7,292.2 1504.3,291.9 1505.0,292.7 1505.6,295.6 1506.2,298.6 1506.7,297.4 1507.1,295.6 1507.5,295.4 1508.0,290.8 1508.4,290.5 1508.8,289.2 1509.2,287.4 1509.7,287.5 1510.1,283.9 1510.5,282.8 1511.0,283.4 1511.4,286.0 1511.9,289.6 1512.4,287.0 1512.8,290.9 1513.3,293.2 1513.8,292.5 1515.4,293.1 1517.0,293.4 1517.2,296.3 1517.4,295.6 1517.6,299.5 1517.8,299.5 1518.0,303.2 1518.2,307.7 1518.4,304.9 1518.6,308.7 1518.8,307.7 1518.9,307.3 1519.1,310.4 1519.3,312.2 1519.5,312.6 1519.6,315.5 1519.8,316.0 1520.0,317.7 1520.2,320.9 1520.3,322.6 1520.5,320.7 1521.0,324.7 1521.5,326.7 1522.0,327.2 1522.5,330.8 1523.0,330.7 1523.1,330.3 1523.2,331.8 1523.3,335.8 1523.5,336.6 1523.6,337.2 1523.7,337.4 1523.8,336.8 1523.9,340.9 1524.0,342.2 1524.2,346.7 1524.3,347.3 1524.4,349.4 1524.5,351.1 1524.6,349.6 1524.7,346.9 1524.8,345.0 1524.9,345.3 1525.0,342.3 1525.1,341.7 1525.2,337.9 1525.3,339.3 1525.4,336.8 1525.5,333.0 1525.6,332.7 1525.7,332.7 1525.8,331.1 1525.9,325.8 1526.0,328.8 1526.1,324.0 1526.2,325.6 1526.4,324.3 1526.6,322.2 1526.8,319.1 1527.0,322.5 1527.2,320.0 1527.4,316.8 1527.6,315.8 1527.8,312.9 1528.0,310.3 1528.2,309.6 1528.4,310.7 1528.5,306.8 1528.7,305.5 1528.9,303.1 1529.1,305.8 1529.3,302.3 1529.5,300.4 1529.6,303.0 1529.7,305.1 1529.8,302.2 1529.9,306.9 1530.0,307.6 1530.2,308.1 1530.3,308.7 1530.4,310.6 1530.5,314.1 1530.6,316.1 1530.7,319.3 1530.8,316.5 1530.9,321.1 1531.0,322.7 1531.1,320.7 1531.2,322.2 1531.3,325.3 1531.5,326.0 1531.6,328.3 1531.7,329.5 1531.8,331.0 1531.9,332.9 1532.0,334.5 1532.1,334.0 1532.2,332.9 1532.3,333.8 1532.4,329.2 1532.5,328.7 1532.6,326.1 1532.7,325.5 1532.8,324.0 1532.9,323.3 1533.0,321.0 1533.1,319.0 1533.2,317.0 1533.3,316.4 1533.4,315.1 1533.5,314.0 1533.6,311.6 1533.8,310.0 1534.4,307.7 1535.0,306.8 1535.6,306.1 1536.2,303.9 1536.4,305.7 1536.6,309.6 1536.8,312.4 1537.0,309.7 1537.2,314.4 1537.4,313.7 1537.6,317.9 1537.8,316.7 1538.0,318.1 1538.2,321.1 1538.4,323.2 1538.6,323.9 1538.8,324.2 1540.0,327.7 1541.2,328.6 1541.5,328.8 1541.8,331.3 1542.0,333.8 1542.2,334.3 1542.5,334.6 1542.8,333.6 1543.0,336.5 1543.2,336.8 1543.3,340.1 1543.5,341.8 1543.7,342.5 1543.8,344.6 1544.0,348.2 1544.2,347.6 1544.3,350.8 1544.5,351.6 1544.7,350.0 1544.8,351.6 1545.0,355.9 1545.2,352.7 1545.3,351.2 1545.5,350.4 1545.6,348.8 1545.8,347.1 1545.9,345.1 1546.1,344.3 1546.2,343.4 1546.4,341.3 1546.5,342.0 1546.7,336.0 1546.8,337.5 1547.0,337.1 1547.4,337.5 1547.9,339.3 1548.3,341.0 1548.7,341.8 1549.1,342.8 1549.6,345.5 1550.0,346.5 1550.3,342.7 1550.6,342.3 1550.9,338.5 1551.2,338.5 1551.6,336.4 1551.9,334.9 1552.2,334.2 1552.5,332.3 1553.8,332.9 1555.0,333.7 1556.2,331.3 1556.9,337.2 1557.5,338.9 1558.2,338.7 1558.8,339.2 1559.5,341.5 1559.8,338.9 1560.0,340.3 1560.3,338.6 1560.6,337.8 1560.9,333.4 1561.1,336.9 1561.4,332.6 1561.7,329.6 1562.0,329.3 1562.2,326.3 1562.5,324.5 1563.1,326.1 1563.8,328.7 1564.4,328.0 1565.0,331.2 1565.6,335.1 1566.2,333.7 1566.9,332.1 1567.5,330.9 1568.1,329.5 1568.8,328.2 1569.4,329.5 1570.0,325.8 1570.6,325.0 1571.2,321.3 1571.8,318.8 1572.4,319.7 1573.0,319.2 1574.1,320.4 1575.2,319.7 1576.2,325.0 1576.6,322.6 1577.0,327.7 1577.3,327.0 1577.7,328.8 1578.1,331.1 1578.4,332.4 1578.8,333.8 1579.1,335.4 1579.5,332.9 1580.6,337.2 1581.6,337.1 1582.7,338.2 1583.8,340.9 1584.3,339.0 1584.8,337.8 1585.4,336.5 1585.9,332.7 1586.4,333.8 1587.0,329.6 1587.5,331.1 1587.9,330.0 1588.3,326.6 1588.7,322.8 1589.1,323.2 1589.5,323.3 1589.8,325.4 1590.1,326.5 1590.4,323.5 1590.8,327.9 1591.1,331.6 1591.4,332.0 1591.7,336.5 1592.0,331.1 1592.6,337.2 1593.2,337.0 1593.9,337.2 1594.5,341.1 1594.9,342.8 1595.2,342.8 1595.6,346.0 1595.9,345.3 1596.3,348.7 1596.6,349.2 1597.0,350.7 1597.2,349.5 1597.3,353.7 1597.5,356.5 1597.6,354.6 1597.8,356.5 1598.0,360.6 1598.1,360.2 1598.3,365.1 1598.4,364.2 1598.6,365.4 1598.8,367.6 1600.0,366.0 1601.2,366.0 1601.4,363.6 1601.5,364.3 1601.6,360.9 1601.7,361.7 1601.8,355.9 1601.9,356.0 1602.0,359.4 1602.1,352.4 1602.2,350.3 1602.3,350.0 1602.4,348.8 1602.5,348.1 1602.6,346.2 1602.7,341.9 1602.8,343.6 1602.9,341.1 1603.0,340.2 1604.0,342.9 1605.0,342.2 1605.3,339.2 1605.7,338.7 1606.0,337.5 1606.3,337.4 1606.7,335.3 1607.0,334.0 1607.3,332.7 1607.7,328.6 1608.0,328.4 1609.1,329.7 1610.2,332.9 1611.2,334.2 1611.9,332.7 1612.5,327.3 1613.1,328.9 1613.8,326.6 1614.4,330.8 1615.0,331.3 1615.6,334.3 1616.2,332.0 1617.3,333.2 1618.4,331.7 1619.5,331.5 1620.5,329.5 1621.5,328.1 1622.5,326.7 1623.1,327.3 1623.8,328.2 1624.4,326.1 1625.0,324.0 1625.6,318.6 1626.2,316.2 1626.8,316.9 1627.4,318.3 1628.0,315.2 1628.2,313.2 1628.4,311.3 1628.6,309.2 1628.9,312.8 1629.1,305.8 1629.3,304.2 1629.5,303.5 1629.7,303.1 1629.8,303.3 1630.0,301.9 1630.2,302.8 1630.4,299.1 1630.5,295.2 1630.7,296.1 1630.9,291.6 1631.1,289.8 1631.2,289.2 1632.7,289.1 1634.2,289.2 1635.7,288.6 1637.2,289.6 1638.6,289.3 1640.1,287.7 1641.6,288.6 1643.1,288.2 1644.6,288.2 1646.0,288.8 1647.5,289.7 1649.0,287.0 1650.5,286.2 1652.0,286.6 1653.4,288.6 1654.9,286.9 1656.4,283.4 1657.9,285.3 1659.4,285.7 1660.8,286.6 1662.3,284.8 1663.8,283.0 1665.3,283.3 1666.8,285.0 1668.2,284.2 1669.7,283.9 1671.2,283.6 1672.7,284.0 1674.2,281.5 1675.6,283.2 1677.1,281.4 1678.6,284.8 1680.1,281.6 1681.6,278.9 1683.0,280.2 1684.5,279.8 1686.0,280.4 1687.5,279.6 1689.0,276.2 1690.4,277.8 1691.9,281.0 1693.4,279.7 1694.9,277.2 1696.4,275.9 1697.8,275.3 1699.3,275.8 1700.8,278.9 1702.3,276.9 1703.8,276.1 1705.2,275.7 1706.7,278.4 1708.2,277.2 1709.7,274.5 1711.1,276.8 1712.6,276.1 1714.1,276.4 1715.6,272.7 1717.1,275.7 1718.5,275.5 1720.0,275.3 1721.5,273.0 1723.0,273.5 1724.5,273.7 1725.9,272.8 1727.4,273.1 1728.9,271.6 1730.4,270.3 1731.9,271.3 1733.3,270.0 1734.8,271.8 1736.3,270.2 1737.8,269.4 1739.3,270.8 1740.7,271.6 1742.2,271.3 1743.7,266.6 1745.2,270.2 1746.7,271.0 1748.1,270.1 1749.6,269.7 1751.1,269.2 1752.6,267.7 1754.1,267.1 1755.5,268.0 1757.0,268.2 1758.5,267.1 1760.0,265.9 1761.5,265.4 1762.9,265.8 1764.4,265.8 1765.9,268.1 1767.4,266.1 1768.9,266.5 1770.3,264.8 1771.8,264.5 1773.3,264.9 1774.8,264.5 1776.2,265.5 1777.7,263.8 1779.2,264.2 1780.7,261.0 1782.2,263.0 1783.6,262.3 1785.1,260.5 1786.6,261.8 1788.1,264.9 1789.6,261.5 1791.0,261.6 1792.5,259.7 1794.0,263.7 1795.5,259.8 1797.0,261.0 1798.4,262.3 1799.9,260.5 1801.4,259.3 1802.9,254.5 1804.4,256.8 1805.8,258.4 1807.3,255.7 1808.8,257.2 1810.3,256.3 1811.8,257.0 1813.2,256.4 1814.7,255.2 1816.2,257.0 1817.7,255.4 1819.2,258.8 1820.6,254.1 1822.1,256.2 1823.6,255.7 1825.1,253.7 1826.6,254.6 1828.0,253.5 1829.5,253.9 1831.0,250.4 1832.5,251.3 1834.0,251.5 1835.4,253.0 1836.9,253.5 1838.4,251.8 1839.9,254.1 1841.4,254.9 1842.8,249.8 1844.3,252.1 1845.8,253.4 1847.3,252.4 1848.8,249.9 1850.2,251.8 1851.7,249.6 1853.2,245.4 1854.7,252.5 1856.1,249.4 1857.6,247.3 1859.1,246.8 1860.6,247.1 1862.1,249.5 1863.5,249.0 1865.0,247.4 1866.5,242.6 1868.0,244.4 1869.5,247.5 1870.9,246.6 1872.4,247.8 1873.9,246.7 1875.4,246.9 1876.9,240.3 1878.3,242.6 1879.8,244.5 1881.3,242.7 1882.8,243.5 1884.3,245.6 1885.7,244.7 1887.2,245.0 1888.7,243.5 1890.2,244.7 1891.7,242.4 1893.1,240.2 1894.6,241.9 1896.1,241.2 1897.6,242.6 1899.1,243.6 1900.5,240.4 1902.0,240.1 1903.5,239.2 1905.0,241.4 1906.5,240.9 1907.9,239.8 1909.4,242.6 1910.9,240.6 1912.4,240.4 1913.9,239.4 1915.3,238.6 1916.8,238.2 1918.3,238.1 1919.8,237.6 1921.2,237.9 1921.9,238.7 1922.5,239.8 1923.1,240.9 1923.8,242.1 1924.4,244.1 1925.0,245.7 1925.6,247.2 1926.2,249.0 1926.7,248.1 1927.1,245.8 1927.6,245.1 1928.0,243.3 1928.3,245.1 1928.6,246.4 1928.9,247.9 1929.2,249.4 1929.6,250.2 1929.9,251.8 1930.2,253.4 1930.5,254.5 1931.8,254.1 1933.2,254.0 1934.5,253.7 1934.9,252.6 1935.2,250.7 1935.6,250.1 1936.0,248.2 1936.4,246.6 1936.8,244.8 1937.1,244.3 1937.5,241.9 1938.8,241.2 1940.0,239.8 1940.4,238.6 1940.9,237.0 1941.3,235.7 1941.7,234.6 1942.1,233.0 1942.6,231.6 1943.0,230.8 1943.5,228.4 1944.0,226.4 1944.5,225.0 1945.0,224.3 1945.5,222.0 1946.1,221.5 1946.8,219.6 1947.4,218.7 1948.0,216.8 1948.8,216.2 1949.7,215.8 1950.5,213.8 1950.5,214.2 1950.5,217.2 1950.5,218.8" stroke="#000000" stroke-width="3.9" stroke-linejoin="round" stroke-linecap="butt"/>
<circle cx="1950.5" cy="160.5" r="5.2" fill="#cf394d"/>
<circle cx="1950.5" cy="197.5" r="5.2" fill="#ffcd78"/>
<circle cx="1950.5" cy="218.75" r="5.2" fill="#000000"/>
<circle cx="1950.5" cy="245.75" r="5.2" fill="#0000ff"/>
<circle cx="1950.5" cy="285.5" r="5.2" fill="#46baae"/>
<rect x="1963.9" y="75.9" width="3.2" height="886.1" fill="#40b8ab"/>
<rect x="24" y="961.3" width="1926.5" height="1.5" fill="#d9d9d9"/>
<rect x="110.5" y="962" width="1" height="14.5" fill="#e6e6e6"/>
<rect x="229.0" y="962" width="1" height="14.5" fill="#e6e6e6"/>
<rect x="346.5" y="962" width="1" height="14.5" fill="#e6e6e6"/>
<rect x="467.0" y="962" width="1" height="14.5" fill="#e6e6e6"/>
<rect x="584.5" y="962" width="1" height="14.5" fill="#e6e6e6"/>
<rect x="703.0" y="962" width="1" height="14.5" fill="#e6e6e6"/>
<rect x="818.5" y="962" width="1" height="14.5" fill="#e6e6e6"/>
<rect x="937.5" y="962" width="1" height="14.5" fill="#e6e6e6"/>
<rect x="1056.0" y="962" width="1" height="14.5" fill="#e6e6e6"/>
<rect x="1175.0" y="962" width="1" height="14.5" fill="#e6e6e6"/>
<rect x="1293.5" y="962" width="1" height="14.5" fill="#e6e6e6"/>
<rect x="1411.5" y="962" width="1" height="14.5" fill="#e6e6e6"/>
<rect x="1526.0" y="962" width="1" height="14.5" fill="#e6e6e6"/>
<rect x="1644.0" y="962" width="1" height="14.5" fill="#e6e6e6"/>
<rect x="1762.0" y="962" width="1" height="14.5" fill="#e6e6e6"/>
<rect x="1881.5" y="962" width="1" height="14.5" fill="#e6e6e6"/>
<circle cx="35.3" cy="25.65" r="5.9" fill="#0000ff"/>
<circle cx="208" cy="25.65" r="5.9" fill="#cf394d"/>
<circle cx="434.5" cy="25.65" r="5.9" fill="#ffcd78"/>
<circle cx="614" cy="25.65" r="5.9" fill="#46baae"/>
<circle cx="847.5" cy="25.65" r="5.9" fill="#000000"/>
<path d="M2000.5 28.7 H2004.7 L2006.6 26.1 H2013.9 L2015.8 28.7 H2019.8 V40.1 H2000.5 Z" stroke="#3c3c3c" stroke-width="1.55" stroke-linejoin="round"/>
<circle cx="2010.2" cy="33.7" r="3.2" stroke="#3c3c3c" stroke-width="1.55"/>
</svg>
<div class="t lg" id="lg0" style="left:0;top:17px;transform:translateX(47.01px) scaleX(1.0299);">STH-Cost Basis</div>
<div class="t lg" id="lg1" style="left:0;top:17px;transform:translateX(219.10px) scaleX(1.0279);">Over Heated (+2 STD)</div>
<div class="t lg" id="lg2" style="left:0;top:17px;transform:translateX(445.51px) scaleX(1.0225);">Heated (+1 STD)</div>
<div class="t lg" id="lg3" style="left:0;top:17px;transform:translateX(625.81px) scaleX(1.0171);">Cooled (+1 STD) [USD]</div>
<div class="t lg" id="lg4" style="left:0;top:17px;transform:translateX(858.61px) scaleX(1.0142);">BTC: Price [USD]</div>
<div class="t xl" id="xl0" style="left:0;top:983px;transform:translateX(80.42px) scaleX(1.0125);">Mar '23</div>
<div class="t xl" id="xl1" style="left:0;top:983px;transform:translateX(197.65px) scaleX(1.0107);">May '23</div>
<div class="t xl" id="xl2" style="left:0;top:983px;transform:translateX(320.89px) scaleX(1.0202);">Jul '23</div>
<div class="t xl" id="xl3" style="left:0;top:983px;transform:translateX(437.10px) scaleX(0.9930);">Sep '23</div>
<div class="t xl" id="xl4" style="left:0;top:983px;transform:translateX(553.67px) scaleX(1.0154);">Nov '23</div>
<div class="t xl" id="xl5" style="left:0;top:983px;transform:translateX(675.31px) scaleX(0.9861);">Jan '24</div>
<div class="t xl" id="xl6" style="left:0;top:983px;transform:translateX(788.67px) scaleX(1.0110);">Mar '24</div>
<div class="t xl" id="xl7" style="left:0;top:983px;transform:translateX(906.36px) scaleX(1.0049);">May '24</div>
<div class="t xl" id="xl8" style="left:0;top:983px;transform:translateX(1030.38px) scaleX(1.0019);">Jul '24</div>
<div class="t xl" id="xl9" style="left:0;top:983px;transform:translateX(1145.04px) scaleX(1.0015);">Sep '24</div>
<div class="t xl" id="xl10" style="left:0;top:983px;transform:translateX(1263.02px) scaleX(1.0121);">Nov '24</div>
<div class="t xl" id="xl11" style="left:0;top:983px;transform:translateX(1383.33px) scaleX(1.0014);">Jan '25</div>
<div class="t xl" id="xl12" style="left:0;top:983px;transform:translateX(1496.30px) scaleX(1.0220);">Mar '25</div>
<div class="t xl" id="xl13" style="left:0;top:983px;transform:translateX(1612.67px) scaleX(1.0078);">May '25</div>
<div class="t xl" id="xl14" style="left:0;top:983px;transform:translateX(1736.74px) scaleX(1.0097);">Jul '25</div>
<div class="t xl" id="xl15" style="left:0;top:983px;transform:translateX(1852.10px) scaleX(0.9938);">Sep '25</div>
<div class="t yl" id="yl0" style="left:0;top:67px;transform:translateX(1976.25px) scaleX(0.9474);">200K</div>
<div class="t yl" id="yl1" style="left:0;top:272px;transform:translateX(1975.87px) scaleX(0.9124);">100K</div>
<div class="t yl" id="yl2" style="left:0;top:377px;transform:translateX(1976.29px) scaleX(0.9257);">70K</div>
<div class="t yl" id="yl3" style="left:0;top:477px;transform:translateX(1976.35px) scaleX(0.9513);">50K</div>
<div class="t yl" id="yl4" style="left:0;top:627px;transform:translateX(1976.23px) scaleX(0.9845);">30K</div>
<div class="t yl" id="yl5" style="left:0;top:747px;transform:translateX(1976.35px) scaleX(0.9322);">20K</div>
<div class="t yl" id="yl6" style="left:0;top:952px;transform:translateX(1975.84px) scaleX(0.8734);">10K</div>
<div id="rz"></div>
<div class="t rzt" id="rzt" style="left:0;top:25px;transform:translateX(1853.08px) scaleX(0.9749);">Reset zoom</div>
<div id="tip"></div>
<div class="t th" id="th" style="left:0;top:166px;transform:translateX(1552.84px) scaleX(1.0299);">Monday, Oct 06 2025, 04:00 UTC</div>
<div class="t tr" id="tra0" style="left:0;top:188px;transform:translateX(1578.06px) scaleX(1.0151);">STH-Cost Basis:</div>
<div class="t tr" id="trb0" style="left:0;top:188px;transform:translateX(1710.05px) scaleX(1.0632);"><b>113,274.47324458</b></div>
<div class="t tr" id="tra1" style="left:0;top:209px;transform:translateX(1578.27px) scaleX(1.0137);">Over Heated (+2 STD):</div>
<div class="t tr" id="trb1" style="left:0;top:209px;transform:translateX(1760.33px) scaleX(1.0457);"><b>150,726.18364768</b></div>
<div class="t tr" id="tra2" style="left:0;top:230px;transform:translateX(1577.80px) scaleX(1.0102);">Heated (+1 STD):</div>
<div class="t tr" id="trb2" style="left:0;top:230px;transform:translateX(1717.37px) scaleX(1.0386);"><b>133,461.37735013</b></div>
<div class="t tr" id="tra3" style="left:0;top:251px;transform:translateX(1578.22px) scaleX(1.0060);">Cooled (+1 STD) [USD]:</div>
<div class="t tr" id="trb3" style="left:0;top:251px;transform:translateX(1767.23px) scaleX(1.0420);"><b>$98,931.76</b></div>
<div class="t tr" id="tra4" style="left:0;top:272px;transform:translateX(1577.84px) scaleX(1.0031);">BTC: Price [USD]:</div>
<div class="t tr" id="trb4" style="left:0;top:272px;transform:translateX(1720.35px) scaleX(1.0615);"><b>$123,642.94</b></div>
<svg width="2048" height="1023" viewBox="0 0 2048 1023">
<circle cx="1560.6" cy="196.1" r="6.2" fill="#0000ff"/>
<circle cx="1560.6" cy="217.2" r="6.2" fill="#cf394d"/>
<circle cx="1560.6" cy="238.3" r="6.2" fill="#ffcd78"/>
<circle cx="1560.6" cy="259.4" r="6.2" fill="#46baae"/>
<circle cx="1560.6" cy="280.6" r="6.2" fill="#000000"/>
</svg>
</body></html>
